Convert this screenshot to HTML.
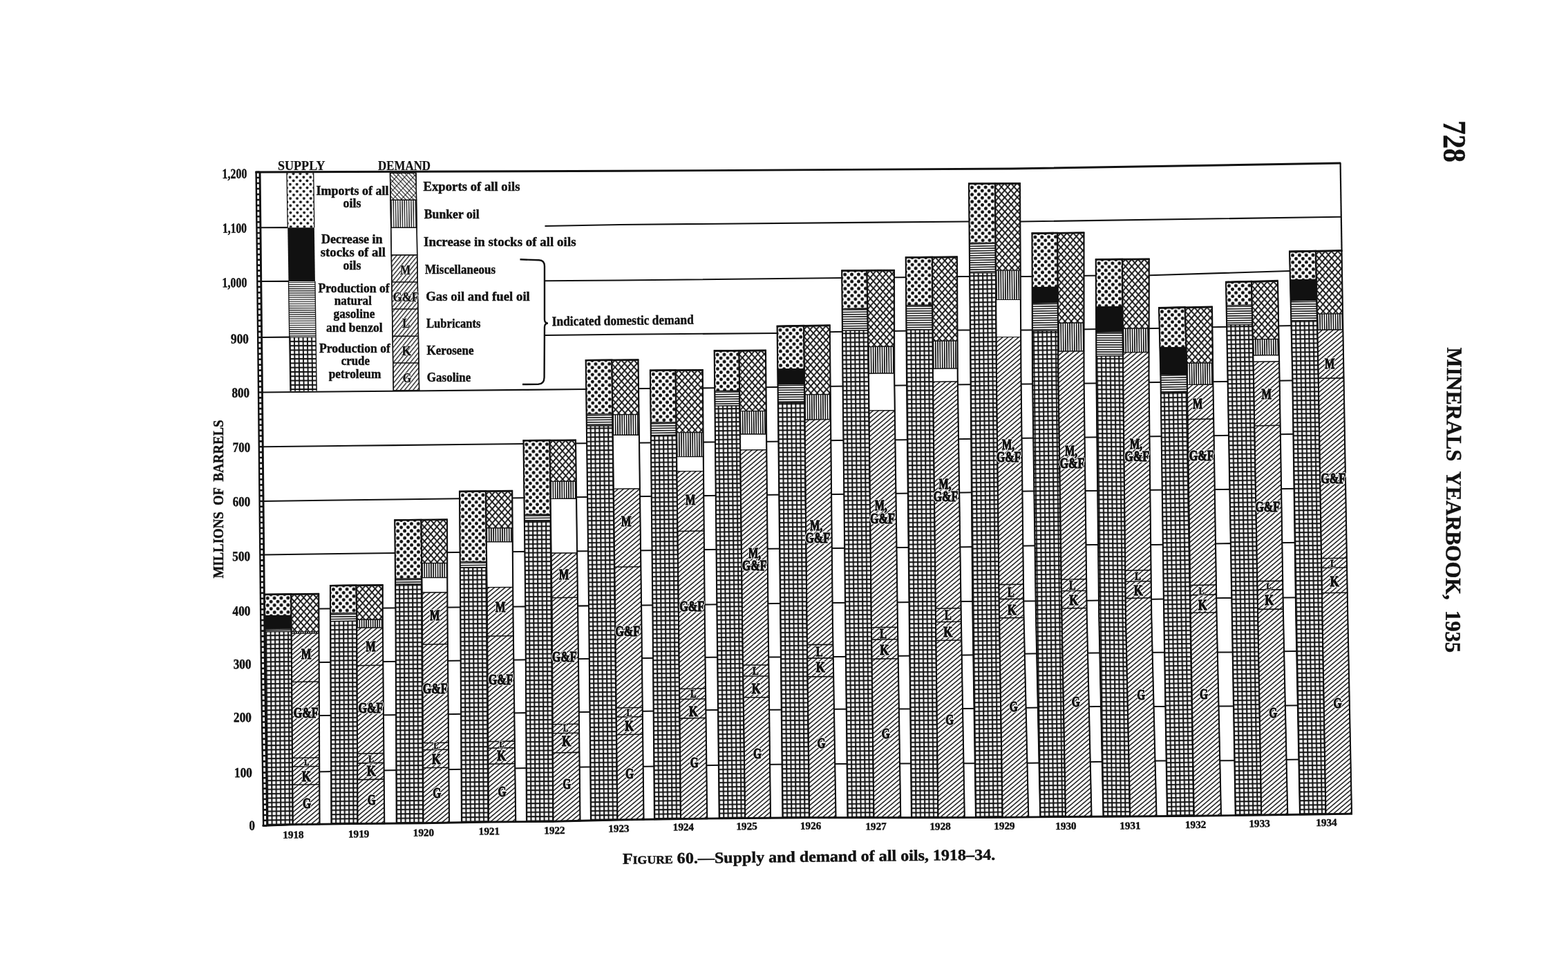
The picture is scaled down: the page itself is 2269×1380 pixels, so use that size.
<!DOCTYPE html>
<html lang="en"><head><meta charset="utf-8"><title>Figure 60. Supply and demand of all oils, 1918-34</title><style>
html,body{margin:0;padding:0;background:#fff}
svg{display:block}
.gl{fill:none;stroke:#111;stroke-width:2.1}
.sg{stroke:#111;stroke-width:1.2;stroke-linejoin:miter}
.dv{stroke:#111;stroke-width:1.6;fill:none}
.bo{fill:none;stroke:#111;stroke-width:2.1;stroke-linejoin:miter}
.bt{fill:none;stroke:#111;stroke-width:2.6}
.ax{fill:none;stroke:#111;stroke-width:2.8}
.fr{fill:none;stroke:#111;stroke-width:2.9}
.frr{fill:none;stroke:#111;stroke-width:2.2}
.ya{fill:none;stroke:#111;stroke-width:2.4}
.yb{fill:none;stroke:#111;stroke-width:2.9}
.tk{fill:none;stroke:#111;stroke-width:2.6}
.lgo{fill:none;stroke:#111;stroke-width:1.3}
.lgb{stroke:#111;stroke-width:1.4}
.halo{stroke:#fff;fill:#fff;stroke-linejoin:round}
.brk{fill:none;stroke:#111;stroke-width:2.4}
text{font-family:"Liberation Serif",serif;font-weight:bold;fill:#111;stroke:#111;stroke-width:0.45}
</style></head><body>
<svg width="2269" height="1380" viewBox="0 0 2269 1380">
<defs>
<pattern id="p1" patternUnits="userSpaceOnUse" width="9.85" height="10.25" patternTransform="matrix(1 -0.01364 0.00753 1 382.81 859.73) translate(1.9 2.9)"><circle cx="2.5" cy="2.7" r="2.45" fill="#111"/><circle cx="7.42" cy="7.83" r="2.45" fill="#111"/></pattern>
<pattern id="p2" patternUnits="userSpaceOnUse" width="8" height="3.38" patternTransform="matrix(1 -0.01364 0.00753 1 383.31 910.23)"><rect x="0" y="0.9" width="8" height="1.55" fill="#111"/></pattern>
<pattern id="p3" patternUnits="userSpaceOnUse" width="6.36" height="6.36" patternTransform="matrix(1 -0.01364 0.00753 1 387.09 1193.51)"><rect width="6.36" height="6.36" fill="#111"/><rect x="1.25" y="0.31" width="4.35" height="4.35" fill="#fff"/></pattern>
<pattern id="p4" patternUnits="userSpaceOnUse" width="9.1" height="10.2" patternTransform="matrix(1 -0.01364 0.00753 1 421.25 859.74) translate(4.5 0)"><path d="M0 0L9.1 10.2M9.1 0L0 10.2" stroke="#111" stroke-width="1.85" fill="none" stroke-linecap="square"/></pattern>
<pattern id="p5" patternUnits="userSpaceOnUse" width="3.22" height="8" patternTransform="matrix(1 -0.01364 0.00753 1 421.66 913.99)"><rect x="0" y="0" width="1.65" height="8" fill="#111"/></pattern>
<pattern id="p6" patternUnits="userSpaceOnUse" width="12" height="5.02" patternTransform="matrix(1 -0.01364 0.00753 1 423.75 1192.5) rotate(-39.5)"><rect x="0" y="1" width="12" height="1.45" fill="#111"/></pattern>
<pattern id="p7" patternUnits="userSpaceOnUse" width="9.85" height="10.25" patternTransform="matrix(1 -0.01287 0.00583 1 478 846.97) translate(1.9 2.9)"><circle cx="2.5" cy="2.7" r="2.45" fill="#111"/><circle cx="7.42" cy="7.83" r="2.45" fill="#111"/></pattern>
<pattern id="p8" patternUnits="userSpaceOnUse" width="8" height="3.38" patternTransform="matrix(1 -0.01287 0.00583 1 478 887.2)"><rect x="0" y="0.9" width="8" height="1.55" fill="#111"/></pattern>
<pattern id="p9" patternUnits="userSpaceOnUse" width="6.36" height="6.36" patternTransform="matrix(1 -0.01287 0.00583 1 479.51 1191.76)"><rect width="6.36" height="6.36" fill="#111"/><rect x="1.25" y="0.31" width="4.35" height="4.35" fill="#fff"/></pattern>
<pattern id="p10" patternUnits="userSpaceOnUse" width="9.1" height="10.2" patternTransform="matrix(1 -0.01287 0.00583 1 515.5 846.98) translate(4.5 0)"><path d="M0 0L9.1 10.2M9.1 0L0 10.2" stroke="#111" stroke-width="1.85" fill="none" stroke-linecap="square"/></pattern>
<pattern id="p11" patternUnits="userSpaceOnUse" width="3.22" height="8" patternTransform="matrix(1 -0.01287 0.00583 1 516.28 896.45)"><rect x="0" y="0" width="1.65" height="8" fill="#111"/></pattern>
<pattern id="p12" patternUnits="userSpaceOnUse" width="12" height="5.02" patternTransform="matrix(1 -0.01287 0.00583 1 517.51 1191.36) rotate(-39.5)"><rect x="0" y="1" width="12" height="1.45" fill="#111"/></pattern>
<pattern id="p13" patternUnits="userSpaceOnUse" width="9.85" height="10.25" patternTransform="matrix(1 -0.0115 0.00686 1 571.25 752.26) translate(1.9 2.9)"><circle cx="2.5" cy="2.7" r="2.45" fill="#111"/><circle cx="7.42" cy="7.83" r="2.45" fill="#111"/></pattern>
<pattern id="p14" patternUnits="userSpaceOnUse" width="8" height="3.38" patternTransform="matrix(1 -0.0115 0.00686 1 572.02 837.22)"><rect x="0" y="0.9" width="8" height="1.55" fill="#111"/></pattern>
<pattern id="p15" patternUnits="userSpaceOnUse" width="6.36" height="6.36" patternTransform="matrix(1 -0.0115 0.00686 1 573.76 1190.91)"><rect width="6.36" height="6.36" fill="#111"/><rect x="1.25" y="0.31" width="4.35" height="4.35" fill="#fff"/></pattern>
<pattern id="p16" patternUnits="userSpaceOnUse" width="9.1" height="10.2" patternTransform="matrix(1 -0.0115 0.00686 1 609.5 752.25) translate(4.5 0)"><path d="M0 0L9.1 10.2M9.1 0L0 10.2" stroke="#111" stroke-width="1.85" fill="none" stroke-linecap="square"/></pattern>
<pattern id="p17" patternUnits="userSpaceOnUse" width="3.22" height="8" patternTransform="matrix(1 -0.0115 0.00686 1 610.18 814.72)"><rect x="0" y="0" width="1.65" height="8" fill="#111"/></pattern>
<pattern id="p18" patternUnits="userSpaceOnUse" width="12" height="5.02" patternTransform="matrix(1 -0.0115 0.00686 1 612.51 1190.43) rotate(-39.5)"><rect x="0" y="1" width="12" height="1.45" fill="#111"/></pattern>
<pattern id="p19" patternUnits="userSpaceOnUse" width="9.85" height="10.25" patternTransform="matrix(1 -0.01053 0.00837 1 665.01 710.74) translate(1.9 2.9)"><circle cx="2.5" cy="2.7" r="2.45" fill="#111"/><circle cx="7.42" cy="7.83" r="2.45" fill="#111"/></pattern>
<pattern id="p20" patternUnits="userSpaceOnUse" width="8" height="3.38" patternTransform="matrix(1 -0.01053 0.00837 1 665.71 812.71)"><rect x="0" y="0.9" width="8" height="1.55" fill="#111"/></pattern>
<pattern id="p21" patternUnits="userSpaceOnUse" width="6.36" height="6.36" patternTransform="matrix(1 -0.01053 0.00837 1 668.01 1189.39)"><rect width="6.36" height="6.36" fill="#111"/><rect x="1.25" y="0.31" width="4.35" height="4.35" fill="#fff"/></pattern>
<pattern id="p22" patternUnits="userSpaceOnUse" width="9.1" height="10.2" patternTransform="matrix(1 -0.01053 0.00837 1 703.01 710.75) translate(4.5 0)"><path d="M0 0L9.1 10.2M9.1 0L0 10.2" stroke="#111" stroke-width="1.85" fill="none" stroke-linecap="square"/></pattern>
<pattern id="p23" patternUnits="userSpaceOnUse" width="3.22" height="8" patternTransform="matrix(1 -0.01053 0.00837 1 703.6 763.98)"><rect x="0" y="0" width="1.65" height="8" fill="#111"/></pattern>
<pattern id="p24" patternUnits="userSpaceOnUse" width="12" height="5.02" patternTransform="matrix(1 -0.01053 0.00837 1 707.01 1188.86) rotate(-39.5)"><rect x="0" y="1" width="12" height="1.45" fill="#111"/></pattern>
<pattern id="p25" patternUnits="userSpaceOnUse" width="9.85" height="10.25" patternTransform="matrix(1 -0.00851 0.00909 1 757.5 637.2) translate(1.9 2.9)"><circle cx="2.5" cy="2.7" r="2.45" fill="#111"/><circle cx="7.42" cy="7.83" r="2.45" fill="#111"/></pattern>
<pattern id="p26" patternUnits="userSpaceOnUse" width="8" height="3.38" patternTransform="matrix(1 -0.00851 0.00909 1 758.77 744.49)"><rect x="0" y="0.9" width="8" height="1.55" fill="#111"/></pattern>
<pattern id="p27" patternUnits="userSpaceOnUse" width="6.36" height="6.36" patternTransform="matrix(1 -0.00851 0.00909 1 762.01 1188.41)"><rect width="6.36" height="6.36" fill="#111"/><rect x="1.25" y="0.31" width="4.35" height="4.35" fill="#fff"/></pattern>
<pattern id="p28" patternUnits="userSpaceOnUse" width="9.1" height="10.2" patternTransform="matrix(1 -0.00851 0.00909 1 795.5 637.2) translate(4.5 0)"><path d="M0 0L9.1 10.2M9.1 0L0 10.2" stroke="#111" stroke-width="1.85" fill="none" stroke-linecap="square"/></pattern>
<pattern id="p29" patternUnits="userSpaceOnUse" width="3.22" height="8" patternTransform="matrix(1 -0.00851 0.00909 1 796.26 696.5)"><rect x="0" y="0" width="1.65" height="8" fill="#111"/></pattern>
<pattern id="p30" patternUnits="userSpaceOnUse" width="12" height="5.02" patternTransform="matrix(1 -0.00851 0.00909 1 800.5 1187.82) rotate(-39.5)"><rect x="0" y="1" width="12" height="1.45" fill="#111"/></pattern>
<pattern id="p31" patternUnits="userSpaceOnUse" width="9.85" height="10.25" patternTransform="matrix(1 -0.0108 0.0122 1 847.7 521.07) translate(1.9 2.9)"><circle cx="2.5" cy="2.7" r="2.45" fill="#111"/><circle cx="7.42" cy="7.83" r="2.45" fill="#111"/></pattern>
<pattern id="p32" patternUnits="userSpaceOnUse" width="8" height="3.38" patternTransform="matrix(1 -0.0108 0.0122 1 848.65 599.12)"><rect x="0" y="0.9" width="8" height="1.55" fill="#111"/></pattern>
<pattern id="p33" patternUnits="userSpaceOnUse" width="6.36" height="6.36" patternTransform="matrix(1 -0.0108 0.0122 1 855.01 1186.52)"><rect width="6.36" height="6.36" fill="#111"/><rect x="1.25" y="0.31" width="4.35" height="4.35" fill="#fff"/></pattern>
<pattern id="p34" patternUnits="userSpaceOnUse" width="9.1" height="10.2" patternTransform="matrix(1 -0.0108 0.0122 1 885.4 521.05) translate(4.5 0)"><path d="M0 0L9.1 10.2M9.1 0L0 10.2" stroke="#111" stroke-width="1.85" fill="none" stroke-linecap="square"/></pattern>
<pattern id="p35" patternUnits="userSpaceOnUse" width="3.22" height="8" patternTransform="matrix(1 -0.0108 0.0122 1 886.43 599.82)"><rect x="0" y="0" width="1.65" height="8" fill="#111"/></pattern>
<pattern id="p36" patternUnits="userSpaceOnUse" width="12" height="5.02" patternTransform="matrix(1 -0.0108 0.0122 1 893.51 1185.73) rotate(-39.5)"><rect x="0" y="1" width="12" height="1.45" fill="#111"/></pattern>
<pattern id="p37" patternUnits="userSpaceOnUse" width="9.85" height="10.25" patternTransform="matrix(1 -0.01344 0.01143 1 940.9 535.68) translate(1.9 2.9)"><circle cx="2.5" cy="2.7" r="2.45" fill="#111"/><circle cx="7.42" cy="7.83" r="2.45" fill="#111"/></pattern>
<pattern id="p38" patternUnits="userSpaceOnUse" width="8" height="3.38" patternTransform="matrix(1 -0.01344 0.01143 1 941.67 611.21)"><rect x="0" y="0.9" width="8" height="1.55" fill="#111"/></pattern>
<pattern id="p39" patternUnits="userSpaceOnUse" width="6.36" height="6.36" patternTransform="matrix(1 -0.01344 0.01143 1 947.02 1184.85)"><rect width="6.36" height="6.36" fill="#111"/><rect x="1.25" y="0.31" width="4.35" height="4.35" fill="#fff"/></pattern>
<pattern id="p40" patternUnits="userSpaceOnUse" width="9.1" height="10.2" patternTransform="matrix(1 -0.01344 0.01143 1 977.6 535.69) translate(4.5 0)"><path d="M0 0L9.1 10.2M9.1 0L0 10.2" stroke="#111" stroke-width="1.85" fill="none" stroke-linecap="square"/></pattern>
<pattern id="p41" patternUnits="userSpaceOnUse" width="3.22" height="8" patternTransform="matrix(1 -0.01344 0.01143 1 978.72 625.73)"><rect x="0" y="0" width="1.65" height="8" fill="#111"/></pattern>
<pattern id="p42" patternUnits="userSpaceOnUse" width="12" height="5.02" patternTransform="matrix(1 -0.01344 0.01143 1 985.01 1184.33) rotate(-39.5)"><rect x="0" y="1" width="12" height="1.45" fill="#111"/></pattern>
<pattern id="p43" patternUnits="userSpaceOnUse" width="9.85" height="10.25" patternTransform="matrix(1 -0.01359 0.01296 1 1033.7 507.41) translate(1.9 2.9)"><circle cx="2.5" cy="2.7" r="2.45" fill="#111"/><circle cx="7.42" cy="7.83" r="2.45" fill="#111"/></pattern>
<pattern id="p44" patternUnits="userSpaceOnUse" width="8" height="3.38" patternTransform="matrix(1 -0.01359 0.01296 1 1034.28 565.69)"><rect x="0" y="0.9" width="8" height="1.55" fill="#111"/></pattern>
<pattern id="p45" patternUnits="userSpaceOnUse" width="6.36" height="6.36" patternTransform="matrix(1 -0.01359 0.01296 1 1040.77 1183.74)"><rect width="6.36" height="6.36" fill="#111"/><rect x="1.25" y="0.31" width="4.35" height="4.35" fill="#fff"/></pattern>
<pattern id="p46" patternUnits="userSpaceOnUse" width="9.1" height="10.2" patternTransform="matrix(1 -0.01359 0.01296 1 1069.5 507.42) translate(4.5 0)"><path d="M0 0L9.1 10.2M9.1 0L0 10.2" stroke="#111" stroke-width="1.85" fill="none" stroke-linecap="square"/></pattern>
<pattern id="p47" patternUnits="userSpaceOnUse" width="3.22" height="8" patternTransform="matrix(1 -0.01359 0.01296 1 1070.53 594.75)"><rect x="0" y="0" width="1.65" height="8" fill="#111"/></pattern>
<pattern id="p48" patternUnits="userSpaceOnUse" width="12" height="5.02" patternTransform="matrix(1 -0.01359 0.01296 1 1078.27 1183.38) rotate(-39.5)"><rect x="0" y="1" width="12" height="1.45" fill="#111"/></pattern>
<pattern id="p49" patternUnits="userSpaceOnUse" width="9.85" height="10.25" patternTransform="matrix(1 -0.00815 0.01127 1 1124.61 471.76) translate(1.9 2.9)"><circle cx="2.5" cy="2.7" r="2.45" fill="#111"/><circle cx="7.42" cy="7.83" r="2.45" fill="#111"/></pattern>
<pattern id="p50" patternUnits="userSpaceOnUse" width="8" height="3.38" patternTransform="matrix(1 -0.00815 0.01127 1 1125.54 555.92)"><rect x="0" y="0.9" width="8" height="1.55" fill="#111"/></pattern>
<pattern id="p51" patternUnits="userSpaceOnUse" width="6.36" height="6.36" patternTransform="matrix(1 -0.00815 0.01127 1 1132.52 1182.93)"><rect width="6.36" height="6.36" fill="#111"/><rect x="1.25" y="0.31" width="4.35" height="4.35" fill="#fff"/></pattern>
<pattern id="p52" patternUnits="userSpaceOnUse" width="9.1" height="10.2" patternTransform="matrix(1 -0.00815 0.01127 1 1163.26 471.75) translate(4.5 0)"><path d="M0 0L9.1 10.2M9.1 0L0 10.2" stroke="#111" stroke-width="1.85" fill="none" stroke-linecap="square"/></pattern>
<pattern id="p53" patternUnits="userSpaceOnUse" width="3.22" height="8" patternTransform="matrix(1 -0.00815 0.01127 1 1164.26 570.82)"><rect x="0" y="0" width="1.65" height="8" fill="#111"/></pattern>
<pattern id="p54" patternUnits="userSpaceOnUse" width="12" height="5.02" patternTransform="matrix(1 -0.00815 0.01127 1 1171.27 1182.75) rotate(-39.5)"><rect x="0" y="1" width="12" height="1.45" fill="#111"/></pattern>
<pattern id="p55" patternUnits="userSpaceOnUse" width="9.85" height="10.25" patternTransform="matrix(1 -0.01075 0.01266 1 1218.25 391.46) translate(1.9 2.9)"><circle cx="2.5" cy="2.7" r="2.45" fill="#111"/><circle cx="7.42" cy="7.83" r="2.45" fill="#111"/></pattern>
<pattern id="p56" patternUnits="userSpaceOnUse" width="8" height="3.38" patternTransform="matrix(1 -0.01075 0.01266 1 1218.7 446.52)"><rect x="0" y="0.9" width="8" height="1.55" fill="#111"/></pattern>
<pattern id="p57" patternUnits="userSpaceOnUse" width="6.36" height="6.36" patternTransform="matrix(1 -0.01075 0.01266 1 1226.52 1182.75)"><rect width="6.36" height="6.36" fill="#111"/><rect x="1.25" y="0.31" width="4.35" height="4.35" fill="#fff"/></pattern>
<pattern id="p58" patternUnits="userSpaceOnUse" width="9.1" height="10.2" patternTransform="matrix(1 -0.01075 0.01266 1 1254.51 391.48) translate(4.5 0)"><path d="M0 0L9.1 10.2M9.1 0L0 10.2" stroke="#111" stroke-width="1.85" fill="none" stroke-linecap="square"/></pattern>
<pattern id="p59" patternUnits="userSpaceOnUse" width="3.22" height="8" patternTransform="matrix(1 -0.01075 0.01266 1 1256.29 501.57)"><rect x="0" y="0" width="1.65" height="8" fill="#111"/></pattern>
<pattern id="p60" patternUnits="userSpaceOnUse" width="12" height="5.02" patternTransform="matrix(1 -0.01075 0.01266 1 1264.52 1182.75) rotate(-39.5)"><rect x="0" y="1" width="12" height="1.45" fill="#111"/></pattern>
<pattern id="p61" patternUnits="userSpaceOnUse" width="9.85" height="10.25" patternTransform="matrix(1 -0.00815 0.01051 1 1310.75 372.29) translate(1.9 2.9)"><circle cx="2.5" cy="2.7" r="2.45" fill="#111"/><circle cx="7.42" cy="7.83" r="2.45" fill="#111"/></pattern>
<pattern id="p62" patternUnits="userSpaceOnUse" width="8" height="3.38" patternTransform="matrix(1 -0.00815 0.01051 1 1311.25 441.58)"><rect x="0" y="0.9" width="8" height="1.55" fill="#111"/></pattern>
<pattern id="p63" patternUnits="userSpaceOnUse" width="6.36" height="6.36" patternTransform="matrix(1 -0.00815 0.01051 1 1319.02 1182.75)"><rect width="6.36" height="6.36" fill="#111"/><rect x="1.25" y="0.31" width="4.35" height="4.35" fill="#fff"/></pattern>
<pattern id="p64" patternUnits="userSpaceOnUse" width="9.1" height="10.2" patternTransform="matrix(1 -0.00815 0.01051 1 1349 372.28) translate(4.5 0)"><path d="M0 0L9.1 10.2M9.1 0L0 10.2" stroke="#111" stroke-width="1.85" fill="none" stroke-linecap="square"/></pattern>
<pattern id="p65" patternUnits="userSpaceOnUse" width="3.22" height="8" patternTransform="matrix(1 -0.00815 0.01051 1 1349.7 493.31)"><rect x="0" y="0" width="1.65" height="8" fill="#111"/></pattern>
<pattern id="p66" patternUnits="userSpaceOnUse" width="12" height="5.02" patternTransform="matrix(1 -0.00815 0.01051 1 1357.52 1182.67) rotate(-39.5)"><rect x="0" y="1" width="12" height="1.45" fill="#111"/></pattern>
<pattern id="p67" patternUnits="userSpaceOnUse" width="9.85" height="10.25" patternTransform="matrix(1 -0.01923 0.01174 1 1402.01 265.6) translate(1.9 2.9)"><circle cx="2.5" cy="2.7" r="2.45" fill="#111"/><circle cx="7.42" cy="7.83" r="2.45" fill="#111"/></pattern>
<pattern id="p68" patternUnits="userSpaceOnUse" width="8" height="3.38" patternTransform="matrix(1 -0.01923 0.01174 1 1402.77 351.25)"><rect x="0" y="0.9" width="8" height="1.55" fill="#111"/></pattern>
<pattern id="p69" patternUnits="userSpaceOnUse" width="6.36" height="6.36" patternTransform="matrix(1 -0.01923 0.01174 1 1412.02 1182.41)"><rect width="6.36" height="6.36" fill="#111"/><rect x="1.25" y="0.31" width="4.35" height="4.35" fill="#fff"/></pattern>
<pattern id="p70" patternUnits="userSpaceOnUse" width="9.1" height="10.2" patternTransform="matrix(1 -0.01923 0.01174 1 1440 265.6) translate(4.5 0)"><path d="M0 0L9.1 10.2M9.1 0L0 10.2" stroke="#111" stroke-width="1.85" fill="none" stroke-linecap="square"/></pattern>
<pattern id="p71" patternUnits="userSpaceOnUse" width="3.22" height="8" patternTransform="matrix(1 -0.01923 0.01174 1 1440.9 391.25)"><rect x="0" y="0" width="1.65" height="8" fill="#111"/></pattern>
<pattern id="p72" patternUnits="userSpaceOnUse" width="12" height="5.02" patternTransform="matrix(1 -0.01923 0.01174 1 1450.77 1182.18) rotate(-39.5)"><rect x="0" y="1" width="12" height="1.45" fill="#111"/></pattern>
<pattern id="p73" patternUnits="userSpaceOnUse" width="9.85" height="10.25" patternTransform="matrix(1 -0.0163 0.01394 1 1493.5 337.35) translate(1.9 2.9)"><circle cx="2.5" cy="2.7" r="2.45" fill="#111"/><circle cx="7.42" cy="7.83" r="2.45" fill="#111"/></pattern>
<pattern id="p74" patternUnits="userSpaceOnUse" width="8" height="3.38" patternTransform="matrix(1 -0.0163 0.01394 1 1493.74 438.33)"><rect x="0" y="0.9" width="8" height="1.55" fill="#111"/></pattern>
<pattern id="p75" patternUnits="userSpaceOnUse" width="6.36" height="6.36" patternTransform="matrix(1 -0.0163 0.01394 1 1505.29 1181.71)"><rect width="6.36" height="6.36" fill="#111"/><rect x="1.25" y="0.31" width="4.35" height="4.35" fill="#fff"/></pattern>
<pattern id="p76" patternUnits="userSpaceOnUse" width="9.1" height="10.2" patternTransform="matrix(1 -0.0163 0.01394 1 1530.25 337.36) translate(4.5 0)"><path d="M0 0L9.1 10.2M9.1 0L0 10.2" stroke="#111" stroke-width="1.85" fill="none" stroke-linecap="square"/></pattern>
<pattern id="p77" patternUnits="userSpaceOnUse" width="3.22" height="8" patternTransform="matrix(1 -0.0163 0.01394 1 1531.03 467.33)"><rect x="0" y="0" width="1.65" height="8" fill="#111"/></pattern>
<pattern id="p78" patternUnits="userSpaceOnUse" width="12" height="5.02" patternTransform="matrix(1 -0.0163 0.01394 1 1542.03 1181.43) rotate(-39.5)"><rect x="0" y="1" width="12" height="1.45" fill="#111"/></pattern>
<pattern id="p79" patternUnits="userSpaceOnUse" width="9.85" height="10.25" patternTransform="matrix(1 0 0.01398 1 1585.75 375.2) translate(1.9 2.9)"><circle cx="2.5" cy="2.7" r="2.45" fill="#111"/><circle cx="7.42" cy="7.83" r="2.45" fill="#111"/></pattern>
<pattern id="p80" patternUnits="userSpaceOnUse" width="8" height="3.38" patternTransform="matrix(1 0 0.01398 1 1586.21 480.31)"><rect x="0" y="0.9" width="8" height="1.55" fill="#111"/></pattern>
<pattern id="p81" patternUnits="userSpaceOnUse" width="6.36" height="6.36" patternTransform="matrix(1 0 0.01398 1 1596.52 1181.14)"><rect width="6.36" height="6.36" fill="#111"/><rect x="1.25" y="0.31" width="4.35" height="4.35" fill="#fff"/></pattern>
<pattern id="p82" patternUnits="userSpaceOnUse" width="9.1" height="10.2" patternTransform="matrix(1 0 0.01398 1 1624 375.2) translate(4.5 0)"><path d="M0 0L9.1 10.2M9.1 0L0 10.2" stroke="#111" stroke-width="1.85" fill="none" stroke-linecap="square"/></pattern>
<pattern id="p83" patternUnits="userSpaceOnUse" width="3.22" height="8" patternTransform="matrix(1 0 0.01398 1 1624.74 475.3)"><rect x="0" y="0" width="1.65" height="8" fill="#111"/></pattern>
<pattern id="p84" patternUnits="userSpaceOnUse" width="12" height="5.02" patternTransform="matrix(1 0 0.01398 1 1635.27 1180.9) rotate(-39.5)"><rect x="0" y="1" width="12" height="1.45" fill="#111"/></pattern>
<pattern id="p85" patternUnits="userSpaceOnUse" width="9.85" height="10.25" patternTransform="matrix(1 -0.01786 0.01769 1 1677.03 445.17) translate(1.9 2.9)"><circle cx="2.5" cy="2.7" r="2.45" fill="#111"/><circle cx="7.42" cy="7.83" r="2.45" fill="#111"/></pattern>
<pattern id="p86" patternUnits="userSpaceOnUse" width="8" height="3.38" patternTransform="matrix(1 -0.01786 0.01769 1 1679.41 541.54)"><rect x="0" y="0.9" width="8" height="1.55" fill="#111"/></pattern>
<pattern id="p87" patternUnits="userSpaceOnUse" width="6.36" height="6.36" patternTransform="matrix(1 -0.01786 0.01769 1 1689.02 1180.44)"><rect width="6.36" height="6.36" fill="#111"/><rect x="1.25" y="0.31" width="4.35" height="4.35" fill="#fff"/></pattern>
<pattern id="p88" patternUnits="userSpaceOnUse" width="9.1" height="10.2" patternTransform="matrix(1 -0.01786 0.01769 1 1714.79 445.18) translate(4.5 0)"><path d="M0 0L9.1 10.2M9.1 0L0 10.2" stroke="#111" stroke-width="1.85" fill="none" stroke-linecap="square"/></pattern>
<pattern id="p89" patternUnits="userSpaceOnUse" width="3.22" height="8" patternTransform="matrix(1 -0.01786 0.01769 1 1717.17 525.35)"><rect x="0" y="0" width="1.65" height="8" fill="#111"/></pattern>
<pattern id="p90" patternUnits="userSpaceOnUse" width="12" height="5.02" patternTransform="matrix(1 -0.01786 0.01769 1 1727.77 1180.06) rotate(-39.5)"><rect x="0" y="1" width="12" height="1.45" fill="#111"/></pattern>
<pattern id="p91" patternUnits="userSpaceOnUse" width="9.85" height="10.25" patternTransform="matrix(1 -0.0133 0.01848 1 1774.01 407.8) translate(1.9 2.9)"><circle cx="2.5" cy="2.7" r="2.45" fill="#111"/><circle cx="7.42" cy="7.83" r="2.45" fill="#111"/></pattern>
<pattern id="p92" patternUnits="userSpaceOnUse" width="8" height="3.38" patternTransform="matrix(1 -0.0133 0.01848 1 1774.63 441.88)"><rect x="0" y="0.9" width="8" height="1.55" fill="#111"/></pattern>
<pattern id="p93" patternUnits="userSpaceOnUse" width="6.36" height="6.36" patternTransform="matrix(1 -0.0133 0.01848 1 1787.77 1179.3)"><rect width="6.36" height="6.36" fill="#111"/><rect x="1.25" y="0.31" width="4.35" height="4.35" fill="#fff"/></pattern>
<pattern id="p94" patternUnits="userSpaceOnUse" width="9.1" height="10.2" patternTransform="matrix(1 -0.0133 0.01848 1 1811.02 407.8) translate(4.5 0)"><path d="M0 0L9.1 10.2M9.1 0L0 10.2" stroke="#111" stroke-width="1.85" fill="none" stroke-linecap="square"/></pattern>
<pattern id="p95" patternUnits="userSpaceOnUse" width="3.22" height="8" patternTransform="matrix(1 -0.0133 0.01848 1 1812.83 490.96)"><rect x="0" y="0" width="1.65" height="8" fill="#111"/></pattern>
<pattern id="p96" patternUnits="userSpaceOnUse" width="12" height="5.02" patternTransform="matrix(1 -0.0133 0.01848 1 1825.26 1178.81) rotate(-39.5)"><rect x="0" y="1" width="12" height="1.45" fill="#111"/></pattern>
<pattern id="p97" patternUnits="userSpaceOnUse" width="9.85" height="10.25" patternTransform="matrix(1 -0.01087 0.01781 1 1866.02 363.65) translate(1.9 2.9)"><circle cx="2.5" cy="2.7" r="2.45" fill="#111"/><circle cx="7.42" cy="7.83" r="2.45" fill="#111"/></pattern>
<pattern id="p98" patternUnits="userSpaceOnUse" width="8" height="3.38" patternTransform="matrix(1 -0.01087 0.01781 1 1867.68 435.1)"><rect x="0" y="0.9" width="8" height="1.55" fill="#111"/></pattern>
<pattern id="p99" patternUnits="userSpaceOnUse" width="6.36" height="6.36" patternTransform="matrix(1 -0.01087 0.01781 1 1881.02 1178.07)"><rect width="6.36" height="6.36" fill="#111"/><rect x="1.25" y="0.31" width="4.35" height="4.35" fill="#fff"/></pattern>
<pattern id="p100" patternUnits="userSpaceOnUse" width="9.1" height="10.2" patternTransform="matrix(1 -0.01087 0.01781 1 1904.01 363.64) translate(4.5 0)"><path d="M0 0L9.1 10.2M9.1 0L0 10.2" stroke="#111" stroke-width="1.85" fill="none" stroke-linecap="square"/></pattern>
<pattern id="p101" patternUnits="userSpaceOnUse" width="3.22" height="8" patternTransform="matrix(1 -0.01087 0.01781 1 1905.88 454.27)"><rect x="0" y="0" width="1.65" height="8" fill="#111"/></pattern>
<pattern id="p102" patternUnits="userSpaceOnUse" width="12" height="5.02" patternTransform="matrix(1 -0.01087 0.01781 1 1918.51 1177.55) rotate(-39.5)"><rect x="0" y="1" width="12" height="1.45" fill="#111"/></pattern>
<pattern id="p103" patternUnits="userSpaceOnUse" width="9.85" height="10.25" patternTransform="matrix(1 -0.003 0.0155 1 415 250.36) translate(2.2 3.4)"><circle cx="2.4" cy="2.6" r="2.0" fill="#111"/><circle cx="7.32" cy="7.72" r="2.0" fill="#111"/></pattern>
<pattern id="p104" patternUnits="userSpaceOnUse" width="8" height="3.1" patternTransform="matrix(1 -0.003 0.0155 1 417.49 407.06)"><rect x="0" y="0.8" width="8" height="1.2" fill="#111"/></pattern>
<pattern id="p105" patternUnits="userSpaceOnUse" width="6.3" height="6.3" patternTransform="matrix(1 -0.003 0.0155 1 418.77 487.56)"><rect width="6.3" height="6.3" fill="#111"/><rect x="1.8" y="1.1" width="4.4" height="4.2" fill="#fff"/></pattern>
<pattern id="p106" patternUnits="userSpaceOnUse" width="12" height="4.2" patternTransform="matrix(1 -0.003 0.0155 1 564.5 250.36) rotate(47)"><rect x="0" y="1" width="12" height="1.1" fill="#111"/></pattern>
<pattern id="p107" patternUnits="userSpaceOnUse" width="12" height="9" patternTransform="matrix(1 -0.003 0.0155 1 564.5 250.36) rotate(-47)"><rect x="0" y="1" width="12" height="0.8" fill="#111"/></pattern>
<pattern id="p108" patternUnits="userSpaceOnUse" width="3.2" height="8" patternTransform="matrix(1 -0.003 0.0155 1 565.1 289.36)"><rect x="0.3" y="0" width="1.35" height="8" fill="#111"/></pattern>
<pattern id="p110" patternUnits="userSpaceOnUse" width="12" height="4.7" patternTransform="matrix(1 -0.003 0.0155 1 566.31 368.86) rotate(-50)"><rect x="0" y="1" width="12" height="1.3" fill="#111"/></pattern>
</defs>
<rect width="2269" height="1380" fill="#fff"/>
<g id="grid-and-bars">
<path d="M386.02 1117.54 L470 1116.25 L565 1114.25 L658 1113 L753 1111.25 L847 1109.5 L938 1108.75 L1031 1107 L1123 1105.75 L1217 1105 L1310 1104.5 L1403 1104.25 L1494 1103.75 L1586 1102 L1680 1100.5 L1776 1100.3 L1871 1098.75 L1938 1097.76" class="gl"/>
<path d="M384.88 1036.26 L470 1035 L565 1034.25 L658 1033 L753 1031.25 L847 1030 L938 1028.75 L1031 1027 L1123 1026.75 L1217 1025.75 L1310 1025.5 L1403 1025 L1494 1023.75 L1586 1022 L1680 1022 L1776 1021.5 L1871 1020.5 L1938 1019.71" class="gl"/>
<path d="M383.79 959.18 L470 958 L565 957 L658 955.75 L753 954.5 L847 953 L938 952 L1031 950.75 L1123 950.5 L1217 950 L1310 948.75 L1403 947.5 L1494 945.5 L1586 944.5 L1680 943.75 L1776 943.5 L1871 942 L1938 941.21" class="gl"/>
<path d="M383.02 881.49 L470 880.5 L565 879.5 L658 878.5 L753 877.5 L847 876.4 L935 875.5 L1028 874.5 L1120 873 L1212 872 L1305 871.25 L1397 870 L1488 869.5 L1580 868.75 L1672 866.75 L1770 865 L1864 864.5 L1938 863.7" class="gl"/>
<path d="M382.24 802.5 L470 801.3 L571 800 L658 799 L753 798 L847 797.2 L935 796.25 L1028 795 L1120 793.75 L1212 793 L1305 792 L1397 791.25 L1488 789.5 L1580 788 L1672 788 L1770 786.25 L1864 785 L1938 784.2" class="gl"/>
<path d="M381.48 725.01 L382 725 L470 723.8 L571 722.5 L665 721.25 L753 720.2 L847 719 L935 718 L1028 717 L1120 715.75 L1212 715 L1305 713.75 L1397 712.5 L1488 710.5 L1580 710 L1672 708.75 L1770 708 L1864 707 L1938 706.2" class="gl"/>
<path d="M380.7 646.27 L382 646.25 L470 645.2 L571 644.1 L665 643 L757.5 642 L847 641.2 L935 640.5 L1028 639.5 L1120 638.75 L1212 637 L1305 636.25 L1397 635 L1488 633.75 L1580 632.5 L1672 631.25 L1770 630 L1864 628 L1938 627.2" class="gl"/>
<path d="M379.92 567.52 L382 567.5 L571 565.7 L757.5 563.9 L847.5 563 L935 562 L1028 561.25 L1120 560 L1212 558.75 L1305 557.5 L1397 556.25 L1488 555.5 L1580 554.5 L1672 553 L1770 552 L1864 550.5 L1938 549.53" class="gl"/>
<path d="M379.09 487.99 L419.5 487.6 L420 487.6" class="gl"/>
<path d="M788.5 485 L789 485 L897 483.75 L1123 482 L1209.5 480 L1302 478.75 L1393 477.5 L1485 477.5 L1576 476.25 L1671 475 L1764 473 L1859 471.25 L1941 469.77" class="gl"/>
<path d="M378.21 407 L418 406.9" class="gl"/>
<path d="M788.5 406.25 L789 406.25 L897 405.5 L1218 402 L1302 401.25 L1393 400 L1485 400 L1576 398.75 L1664 398.25 L1865 392 L1941 389.91" class="gl"/>
<path d="M377.38 329.25 L415 329.1 L416 329.09" class="gl"/>
<path d="M788.5 326.99 L897 325 L1400 320.5 L1478 320.5 L1938 313.75 L1941 313.71" class="gl"/>
<polygon points="382.81,859.73 421.24,859.27 421.25,860 421.48,890.28 383.12,890.72" fill="#fff"/><polygon points="382.81,859.73 421.24,859.27 421.25,860 421.48,890.28 383.12,890.72" fill="url(#p1)" class="sg"/>
<polygon points="383.12,890.72 421.48,890.28 421.62,909.77 383.31,910.23" fill="#111" class="sg"/>
<polygon points="383.31,910.23 421.62,909.77 421.65,913.51 383.35,913.98" fill="#fff"/><polygon points="383.31,910.23 421.62,909.77 421.65,913.51 383.35,913.98" fill="url(#p2)" class="sg"/>
<polygon points="383.35,913.98 421.65,913.51 423.75,1192 423.76,1192.74 387.1,1194.07 383.8,960" fill="#fff"/><polygon points="383.35,913.98 421.65,913.51 423.75,1192 423.76,1192.74 387.1,1194.07 383.8,960" fill="url(#p3)" class="sg"/>
<polygon points="382.81,859.73 421.24,859.27 421.25,860 423.75,1192 423.76,1192.74 387.1,1194.07 383.8,960" class="bo"/>
<polygon points="421.25,859.74 461.25,859.26 461.25,860 461.45,913.5 421.66,913.99" fill="#fff"/><polygon points="421.25,859.74 461.25,859.26 461.25,860 461.45,913.5 421.66,913.99" fill="url(#p4)" class="sg"/>
<polygon points="421.66,913.99 461.45,913.5 461.46,916 421.68,916.5" fill="#fff"/><polygon points="421.66,913.99 461.45,913.5 461.46,916 421.68,916.5" fill="url(#p5)" class="sg"/>
<polygon points="421.68,916.5 461.46,916 462.5,1192.22 423.76,1192.74 423.75,1192" fill="#fff"/><polygon points="421.68,916.5 461.46,916 462.5,1192.22 423.76,1192.74 423.75,1192" fill="url(#p6)" class="sg"/>
<path d="M422.2 986.52L461.72 985.97" class="dv"/>
<path d="M423.03 1096.53L462.14 1095.94" class="dv"/>
<path d="M423.13 1109.03L462.19 1108.43" class="dv"/>
<path d="M423.32 1135.27L462.28 1134.69" class="dv"/>
<polygon points="421.25,859.74 461.25,859.26 461.25,860 462.5,1192.22 423.76,1192.74 423.75,1192" class="bo"/>
<path d="M382.01 859.97L462.05 859.03" class="bt"/>
<polygon points="478,846.97 515.49,846.54 516.19,886.8 478,887.2" fill="#fff"/><polygon points="478,846.97 515.49,846.54 516.19,886.8 478,887.2" fill="url(#p7)" class="sg"/>
<polygon points="478,887.2 516.19,886.8 516.25,890 516.28,898.3 478.04,898.7 478,890" fill="#fff"/><polygon points="478,887.2 516.19,886.8 516.25,890 516.28,898.3 478.04,898.7 478,890" fill="url(#p8)" class="sg"/>
<polygon points="478.04,898.7 516.28,898.3 517.5,1190 517.51,1191.5 479.51,1192 479.5,1190" fill="#fff"/><polygon points="478.04,898.7 516.28,898.3 517.5,1190 517.51,1191.5 479.51,1192 479.5,1190" fill="url(#p9)" class="sg"/>
<polygon points="478,846.97 515.49,846.54 516.25,890 517.5,1190 517.51,1191.5 479.51,1192 479.5,1190 478,890" class="bo"/>
<polygon points="515.5,846.98 553.75,846.54 553.75,890 553.8,896.05 516.28,896.45 516.25,890" fill="#fff"/><polygon points="515.5,846.98 553.75,846.54 553.75,890 553.8,896.05 516.28,896.45 516.25,890" fill="url(#p10)" class="sg"/>
<polygon points="516.28,896.45 553.8,896.05 553.9,907.8 516.33,908.2" fill="#fff"/><polygon points="516.28,896.45 553.8,896.05 553.9,907.8 516.33,908.2" fill="url(#p11)" class="sg"/>
<polygon points="516.33,908.2 553.9,907.8 556.25,1190 556.26,1191.19 517.51,1191.5 517.5,1190" fill="#fff"/><polygon points="516.33,908.2 553.9,907.8 556.25,1190 556.26,1191.19 517.51,1191.5 517.5,1190" fill="url(#p12)" class="sg"/>
<path d="M516.55 962.69L554.35 962.3" class="dv"/>
<path d="M517.08 1090.31L555.41 1089.65" class="dv"/>
<path d="M517.14 1104.09L555.53 1103.36" class="dv"/>
<path d="M517.24 1127.84L555.73 1127.11" class="dv"/>
<polygon points="515.5,846.98 553.75,846.54 553.75,890 556.25,1190 556.26,1191.19 517.51,1191.5 517.5,1190 516.25,890" class="bo"/>
<path d="M477.2 847.19L554.55 846.32" class="bt"/>
<polygon points="571.25,752.26 609.5,751.78 610.42,836.79 572.02,837.22" fill="#fff"/><polygon points="571.25,752.26 609.5,751.78 610.42,836.79 572.02,837.22" fill="url(#p13)" class="sg"/>
<polygon points="572.02,837.22 610.42,836.79 610.51,844.79 572.09,845.22" fill="#fff"/><polygon points="572.02,837.22 610.42,836.79 610.51,844.79 572.09,845.22" fill="url(#p14)" class="sg"/>
<polygon points="572.09,845.22 610.51,844.79 611,890 612.5,1189 612.51,1190.74 573.76,1191.05 573.75,1189 572.5,890" fill="#fff"/><polygon points="572.09,845.22 610.51,844.79 611,890 612.5,1189 612.51,1190.74 573.76,1191.05 573.75,1189 572.5,890" fill="url(#p15)" class="sg"/>
<polygon points="571.25,752.26 609.5,751.78 611,890 612.5,1189 612.51,1190.74 573.76,1191.05 573.75,1189 572.5,890" class="bo"/>
<polygon points="609.5,752.25 647,751.78 647.23,814.3 610.18,814.72" fill="#fff"/><polygon points="609.5,752.25 647,751.78 647.23,814.3 610.18,814.72" fill="url(#p16)" class="sg"/>
<polygon points="610.18,814.72 647.23,814.3 647.3,835.3 610.41,835.71" fill="#fff"/><polygon points="610.18,814.72 647.23,814.3 647.3,835.3 610.41,835.71" fill="url(#p17)" class="sg"/>
<polygon points="610.41,835.71 647.3,835.3 647.38,856.8 610.64,857.2" fill="#fff" class="sg"/>
<polygon points="610.64,857.2 647.38,856.8 647.5,890 650,1189 650.01,1190.05 612.51,1190.74 612.5,1189 611,890" fill="#fff"/><polygon points="610.64,857.2 647.38,856.8 647.5,890 650,1189 650.01,1190.05 612.51,1190.74 612.5,1189 611,890" fill="url(#p18)" class="sg"/>
<path d="M611.21 932.23L647.85 931.77" class="dv"/>
<path d="M611.93 1074.73L649.04 1074.23" class="dv"/>
<path d="M611.98 1084.73L649.12 1084.23" class="dv"/>
<path d="M612.11 1110.73L649.34 1110.23" class="dv"/>
<polygon points="609.5,752.25 647,751.78 647.5,890 650,1189 650.01,1190.05 612.51,1190.74 612.5,1189 611,890" class="bo"/>
<path d="M570.45 752.5L647.8 751.54" class="bt"/>
<polygon points="665.01,710.74 703,710.3 704.14,812.31 665.71,812.71" fill="#fff"/><polygon points="665.01,710.74 703,710.3 704.14,812.31 665.71,812.71" fill="url(#p19)" class="sg"/>
<polygon points="665.71,812.71 704.14,812.31 704.23,821.05 665.77,821.46" fill="#fff"/><polygon points="665.71,812.71 704.14,812.31 704.23,821.05 665.77,821.46" fill="url(#p20)" class="sg"/>
<polygon points="665.77,821.46 704.23,821.05 705,890 707,1188 707.01,1189 668.01,1189.72 668,1188 666.25,890" fill="#fff"/><polygon points="665.77,821.46 704.23,821.05 705,890 707,1188 707.01,1189 668.01,1189.72 668,1188 666.25,890" fill="url(#p21)" class="sg"/>
<polygon points="665.01,710.74 703,710.3 705,890 707,1188 707.01,1189 668.01,1189.72 668,1188 666.25,890" class="bo"/>
<polygon points="703.01,710.75 741.25,710.29 741.62,763.55 703.6,763.98" fill="#fff"/><polygon points="703.01,710.75 741.25,710.29 741.62,763.55 703.6,763.98" fill="url(#p22)" class="sg"/>
<polygon points="703.6,763.98 741.62,763.55 741.76,783.56 703.82,783.97" fill="#fff"/><polygon points="703.6,763.98 741.62,763.55 741.76,783.56 703.82,783.97" fill="url(#p23)" class="sg"/>
<polygon points="703.82,783.97 741.76,783.56 742.22,849.31 704.55,849.7" fill="#fff" class="sg"/>
<polygon points="704.55,849.7 742.22,849.31 742.5,890 746.25,1188 746.26,1188.68 707.01,1189 707,1188 705,890" fill="#fff"/><polygon points="704.55,849.7 742.22,849.31 742.5,890 746.25,1188 746.26,1188.68 707.01,1189 707,1188 705,890" fill="url(#p24)" class="sg"/>
<path d="M705.2 920.22L742.87 919.77" class="dv"/>
<path d="M706.23 1072.82L744.79 1072.11" class="dv"/>
<path d="M706.29 1082.32L744.91 1081.61" class="dv"/>
<path d="M706.45 1105.32L745.2 1104.61" class="dv"/>
<polygon points="703.01,710.75 741.25,710.29 742.5,890 746.25,1188 746.26,1188.68 707.01,1189 707,1188 705,890" class="bo"/>
<path d="M664.21 710.97L742.05 710.07" class="bt"/>
<polygon points="757.5,637.2 795.5,636.86 796.88,744.05 758.77,744.49" fill="#fff"/><polygon points="757.5,637.2 795.5,636.86 796.88,744.05 758.77,744.49" fill="url(#p25)" class="sg"/>
<polygon points="758.77,744.49 796.88,744.05 797,753.56 758.89,753.98" fill="#fff"/><polygon points="758.77,744.49 796.88,744.05 797,753.56 758.89,753.98" fill="url(#p26)" class="sg"/>
<polygon points="758.89,753.98 797,753.56 798.75,890 800.5,1187 800.51,1188.24 762.01,1188.56 762,1187 760.5,890" fill="#fff"/><polygon points="758.89,753.98 797,753.56 798.75,890 800.5,1187 800.51,1188.24 762.01,1188.56 762,1187 760.5,890" fill="url(#p27)" class="sg"/>
<polygon points="757.5,637.2 795.5,636.86 798.75,890 800.5,1187 800.51,1188.24 762.01,1188.56 762,1187 760.5,890" class="bo"/>
<polygon points="795.5,637.2 833,636.86 833.76,696.06 796.26,696.5" fill="#fff"/><polygon points="795.5,637.2 833,636.86 833.76,696.06 796.26,696.5" fill="url(#p28)" class="sg"/>
<polygon points="796.26,696.5 833.76,696.06 834.08,721.04 796.59,721.52" fill="#fff"/><polygon points="796.26,696.5 833.76,696.06 834.08,721.04 796.59,721.52" fill="url(#p29)" class="sg"/>
<polygon points="796.59,721.52 834.08,721.04 835.09,799.85 797.6,800.17" fill="#fff" class="sg"/>
<polygon points="797.6,800.17 835.09,799.85 836.25,890 839.5,1187.29 800.51,1188.24 800.5,1187 798.75,890" fill="#fff"/><polygon points="797.6,800.17 835.09,799.85 836.25,890 839.5,1187.29 800.51,1188.24 800.5,1187 798.75,890" fill="url(#p30)" class="sg"/>
<path d="M798.43 864.71L835.92 864.29" class="dv"/>
<path d="M799.68 1047.76L837.97 1047.21" class="dv"/>
<path d="M799.76 1060.77L838.11 1060.19" class="dv"/>
<path d="M799.92 1089.05L838.42 1088.39" class="dv"/>
<polygon points="795.5,637.2 833,636.86 836.25,890 839.5,1187.29 800.51,1188.24 800.5,1187 798.75,890" class="bo"/>
<path d="M756.7 637.37L833.8 636.69" class="bt"/>
<polygon points="847.7,521.07 885.4,520.64 886.41,598.75 848.65,599.12" fill="#fff"/><polygon points="847.7,521.07 885.4,520.64 886.41,598.75 848.65,599.12" fill="url(#p31)" class="sg"/>
<polygon points="848.65,599.12 886.41,598.75 886.63,615.86 848.86,616.2" fill="#fff"/><polygon points="848.65,599.12 886.41,598.75 886.63,615.86 848.86,616.2" fill="url(#p32)" class="sg"/>
<polygon points="848.86,616.2 886.63,615.86 890.2,890 893.5,1185 893.51,1185.99 855.02,1186.92 855,1185 852.2,890" fill="#fff"/><polygon points="848.86,616.2 886.63,615.86 890.2,890 893.5,1185 893.51,1185.99 855.02,1186.92 855,1185 852.2,890" fill="url(#p33)" class="sg"/>
<polygon points="847.7,521.07 885.4,520.64 890.2,890 893.5,1185 893.51,1185.99 855.02,1186.92 855,1185 852.2,890" class="bo"/>
<polygon points="885.4,521.05 923.5,520.67 924.51,599.45 886.43,599.82" fill="#fff"/><polygon points="885.4,521.05 923.5,520.67 924.51,599.45 886.43,599.82" fill="url(#p34)" class="sg"/>
<polygon points="886.43,599.82 924.51,599.45 924.89,629.07 886.81,629.39" fill="#fff"/><polygon points="886.43,599.82 924.51,599.45 924.89,629.07 886.81,629.39" fill="url(#p35)" class="sg"/>
<polygon points="886.81,629.39 924.89,629.07 925.89,706.82 887.82,707.23" fill="#fff" class="sg"/>
<polygon points="887.82,707.23 925.89,706.82 928.25,890 931.5,1185.37 893.51,1185.99 893.5,1185 890.2,890" fill="#fff"/><polygon points="887.82,707.23 925.89,706.82 928.25,890 931.5,1185.37 893.51,1185.99 893.5,1185 890.2,890" fill="url(#p36)" class="sg"/>
<path d="M889.29 820.21L927.35 819.81" class="dv"/>
<path d="M891.7 1023.99L929.72 1023.47" class="dv"/>
<path d="M891.85 1037.23L929.87 1036.73" class="dv"/>
<path d="M892.13 1062.7L930.15 1062.26" class="dv"/>
<polygon points="885.4,521.05 923.5,520.67 928.25,890 931.5,1185.37 893.51,1185.99 893.5,1185 890.2,890" class="bo"/>
<path d="M846.9 521.29L924.29 520.47" class="bt"/>
<polygon points="940.9,535.68 977.6,535.39 978.54,610.85 941.67,611.21" fill="#fff"/><polygon points="940.9,535.68 977.6,535.39 978.54,610.85 941.67,611.21" fill="url(#p37)" class="sg"/>
<polygon points="941.67,611.21 978.54,610.85 978.76,629.24 941.86,629.62" fill="#fff"/><polygon points="941.67,611.21 978.54,610.85 978.76,629.24 941.86,629.62" fill="url(#p38)" class="sg"/>
<polygon points="941.86,629.62 978.76,629.24 982,890 985,1183 985.02,1184.5 947.02,1185.12 947,1183 944.5,890" fill="#fff"/><polygon points="941.86,629.62 978.76,629.24 982,890 985,1183 985.02,1184.5 947.02,1185.12 947,1183 944.5,890" fill="url(#p39)" class="sg"/>
<polygon points="940.9,535.68 977.6,535.39 982,890 985,1183 985.02,1184.5 947.02,1185.12 947,1183 944.5,890" class="bo"/>
<polygon points="977.6,535.69 1016.8,535.37 1017.55,625.33 978.72,625.73" fill="#fff"/><polygon points="977.6,535.69 1016.8,535.37 1017.55,625.33 978.72,625.73" fill="url(#p40)" class="sg"/>
<polygon points="978.72,625.73 1017.55,625.33 1017.84,660.32 979.15,660.73" fill="#fff"/><polygon points="978.72,625.73 1017.55,625.33 1017.84,660.32 979.15,660.73" fill="url(#p41)" class="sg"/>
<polygon points="979.15,660.73 1017.84,660.32 1018.02,681.52 979.42,681.93" fill="#fff" class="sg"/>
<polygon points="979.42,681.93 1018.02,681.52 1019.75,890 1023.25,1183 1023.26,1184.09 985.02,1184.5 985,1183 982,890" fill="#fff"/><polygon points="979.42,681.93 1018.02,681.52 1019.75,890 1023.25,1183 1023.26,1184.09 985.02,1184.5 985,1183 982,890" fill="url(#p42)" class="sg"/>
<path d="M980.49 768.51L1018.74 768.03" class="dv"/>
<path d="M983.09 996.55L1021.02 995.92" class="dv"/>
<path d="M983.24 1011.56L1021.19 1010.89" class="dv"/>
<path d="M983.53 1039.08L1021.52 1038.36" class="dv"/>
<polygon points="977.6,535.69 1016.8,535.37 1019.75,890 1023.25,1183 1023.26,1184.09 985.02,1184.5 985,1183 982,890" class="bo"/>
<path d="M940.1 535.83L1017.6 535.22" class="bt"/>
<polygon points="1033.7,507.41 1069.5,507.07 1070.18,565.21 1034.28,565.69" fill="#fff"/><polygon points="1033.7,507.41 1069.5,507.07 1070.18,565.21 1034.28,565.69" fill="url(#p43)" class="sg"/>
<polygon points="1034.28,565.69 1070.18,565.21 1070.44,586.83 1034.5,587.25" fill="#fff"/><polygon points="1034.28,565.69 1070.18,565.21 1070.44,586.83 1034.5,587.25" fill="url(#p44)" class="sg"/>
<polygon points="1034.5,587.25 1070.44,586.83 1074,890 1078.25,1182 1078.27,1183.5 1040.77,1183.9 1040.75,1182 1037.5,890" fill="#fff"/><polygon points="1034.5,587.25 1070.44,586.83 1074,890 1078.25,1182 1078.27,1183.5 1040.77,1183.9 1040.75,1182 1037.5,890" fill="url(#p45)" class="sg"/>
<polygon points="1033.7,507.41 1069.5,507.07 1074,890 1078.25,1182 1078.27,1183.5 1040.77,1183.9 1040.75,1182 1037.5,890" class="bo"/>
<polygon points="1069.5,507.42 1108,507.05 1108.8,594.32 1070.53,594.75" fill="#fff"/><polygon points="1069.5,507.42 1108,507.05 1108.8,594.32 1070.53,594.75" fill="url(#p46)" class="sg"/>
<polygon points="1070.53,594.75 1108.8,594.32 1109.1,627.86 1070.92,628.2" fill="#fff"/><polygon points="1070.53,594.75 1108.8,594.32 1109.1,627.86 1070.92,628.2" fill="url(#p47)" class="sg"/>
<polygon points="1070.92,628.2 1109.1,627.86 1109.31,650.65 1071.19,650.99" fill="#fff" class="sg"/>
<polygon points="1071.19,650.99 1109.31,650.65 1111.5,890 1115,1182 1115.01,1183.2 1078.27,1183.5 1078.25,1182 1074,890" fill="#fff"/><polygon points="1071.19,650.99 1109.31,650.65 1111.5,890 1115,1182 1115.01,1183.2 1078.27,1183.5 1078.25,1182 1074,890" fill="url(#p48)" class="sg"/>
<path d="M1075.05 962.05L1112.36 961.95" class="dv"/>
<path d="M1075.28 978.05L1112.55 977.95" class="dv"/>
<path d="M1075.73 1008.8L1112.92 1008.7" class="dv"/>
<polygon points="1069.5,507.42 1108,507.05 1111.5,890 1115,1182 1115.01,1183.2 1078.27,1183.5 1078.25,1182 1074,890" class="bo"/>
<path d="M1032.91 507.59L1108.8 506.88" class="bt"/>
<polygon points="1124.61,471.76 1163.25,470.93 1163.88,533.54 1125.3,534.19" fill="#fff"/><polygon points="1124.61,471.76 1163.25,470.93 1163.88,533.54 1125.3,534.19" fill="url(#p49)" class="sg"/>
<polygon points="1125.3,534.19 1163.88,533.54 1164.11,555.38 1125.54,555.92" fill="#111" class="sg"/>
<polygon points="1125.54,555.92 1164.11,555.38 1164.38,582.36 1125.84,582.94" fill="#fff"/><polygon points="1125.54,555.92 1164.11,555.38 1164.38,582.36 1125.84,582.94" fill="url(#p50)" class="sg"/>
<polygon points="1125.84,582.94 1164.38,582.36 1167.5,890 1171.25,1181 1171.27,1182.75 1132.52,1183.06 1132.5,1181 1129.25,890" fill="#fff"/><polygon points="1125.84,582.94 1164.38,582.36 1167.5,890 1171.25,1181 1171.27,1182.75 1132.52,1183.06 1132.5,1181 1129.25,890" fill="url(#p51)" class="sg"/>
<polygon points="1124.61,471.76 1163.25,470.93 1167.5,890 1171.25,1181 1171.27,1182.75 1132.52,1183.06 1132.5,1181 1129.25,890" class="bo"/>
<polygon points="1163.26,471.75 1200.75,470.94 1201.7,570.28 1164.26,570.82" fill="#fff"/><polygon points="1163.26,471.75 1200.75,470.94 1201.7,570.28 1164.26,570.82" fill="url(#p52)" class="sg"/>
<polygon points="1164.26,570.82 1201.7,570.28 1202.05,606.73 1164.63,607.37" fill="#fff"/><polygon points="1164.26,570.82 1201.7,570.28 1202.05,606.73 1164.63,607.37" fill="url(#p53)" class="sg"/>
<polygon points="1164.63,607.37 1202.05,606.73 1204.75,890 1209.5,1181 1209.53,1182.75 1171.27,1182.75 1171.25,1181 1167.5,890" fill="#fff"/><polygon points="1164.63,607.37 1202.05,606.73 1204.75,890 1209.5,1181 1209.53,1182.75 1171.27,1182.75 1171.25,1181 1167.5,890" fill="url(#p54)" class="sg"/>
<path d="M1168.05 932.62L1205.44 932.37" class="dv"/>
<path d="M1168.3 952.1L1205.76 951.89" class="dv"/>
<path d="M1168.65 978.88L1206.2 978.6" class="dv"/>
<polygon points="1163.26,471.75 1200.75,470.94 1204.75,890 1209.5,1181 1209.53,1182.75 1171.27,1182.75 1171.25,1181 1167.5,890" class="bo"/>
<path d="M1123.81 472.17L1201.55 470.53" class="bt"/>
<polygon points="1218.25,391.46 1254.5,391.14 1255.39,446.1 1218.7,446.52" fill="#fff"/><polygon points="1218.25,391.46 1254.5,391.14 1255.39,446.1 1218.7,446.52" fill="url(#p55)" class="sg"/>
<polygon points="1218.7,446.52 1255.39,446.1 1255.91,477.81 1218.96,478.31" fill="#fff"/><polygon points="1218.7,446.52 1255.39,446.1 1255.91,477.81 1218.96,478.31" fill="url(#p56)" class="sg"/>
<polygon points="1218.96,478.31 1255.91,477.81 1257,545 1260.75,890 1264.5,1181 1264.52,1182.75 1226.52,1182.75 1226.5,1181 1223.25,890 1219.5,545" fill="#fff"/><polygon points="1218.96,478.31 1255.91,477.81 1257,545 1260.75,890 1264.5,1181 1264.52,1182.75 1226.52,1182.75 1226.5,1181 1223.25,890 1219.5,545" fill="url(#p57)" class="sg"/>
<polygon points="1218.25,391.46 1254.5,391.14 1257,545 1260.75,890 1264.5,1181 1264.52,1182.75 1226.52,1182.75 1226.5,1181 1223.25,890 1219.5,545" class="bo"/>
<polygon points="1254.51,391.48 1294,391.12 1294.14,501.06 1256.29,501.57" fill="#fff"/><polygon points="1254.51,391.48 1294,391.12 1294.14,501.06 1256.29,501.57" fill="url(#p58)" class="sg"/>
<polygon points="1256.29,501.57 1294.14,501.06 1294.19,539.81 1256.92,540.31" fill="#fff"/><polygon points="1256.29,501.57 1294.14,501.06 1294.19,539.81 1256.92,540.31" fill="url(#p59)" class="sg"/>
<polygon points="1256.92,540.31 1294.19,539.81 1294.2,545 1294.84,593.59 1257.53,594 1257,545" fill="#fff" class="sg"/>
<polygon points="1257.53,594 1294.84,593.59 1298.75,890 1303.25,1181 1303.28,1182.75 1264.52,1182.75 1264.5,1181 1260.75,890" fill="#fff"/><polygon points="1257.53,594 1294.84,593.59 1298.75,890 1303.25,1181 1303.28,1182.75 1264.52,1182.75 1264.5,1181 1260.75,890" fill="url(#p60)" class="sg"/>
<path d="M1260.98 907.7L1299.02 907.3" class="dv"/>
<path d="M1261.2 925.22L1299.29 924.77" class="dv"/>
<path d="M1261.56 953.24L1299.72 952.74" class="dv"/>
<polygon points="1254.51,391.48 1294,391.12 1294.2,545 1298.75,890 1303.25,1181 1303.28,1182.75 1264.52,1182.75 1264.5,1181 1260.75,890 1257,545" class="bo"/>
<path d="M1217.46 391.63L1294.8 390.96" class="bt"/>
<polygon points="1310.75,372.29 1349,371.83 1349.4,441.05 1311.25,441.58" fill="#fff"/><polygon points="1310.75,372.29 1349,371.83 1349.4,441.05 1311.25,441.58" fill="url(#p61)" class="sg"/>
<polygon points="1311.25,441.58 1349.4,441.05 1349.61,476.8 1311.51,477.32" fill="#fff"/><polygon points="1311.25,441.58 1349.4,441.05 1349.61,476.8 1311.51,477.32" fill="url(#p62)" class="sg"/>
<polygon points="1311.51,477.32 1349.61,476.8 1350,545 1354,890 1357.5,1181 1357.52,1182.75 1319.02,1182.75 1319,1181 1315.75,890 1312,545" fill="#fff"/><polygon points="1311.51,477.32 1349.61,476.8 1350,545 1354,890 1357.5,1181 1357.52,1182.75 1319.02,1182.75 1319,1181 1315.75,890 1312,545" fill="url(#p63)" class="sg"/>
<polygon points="1310.75,372.29 1349,371.83 1350,545 1354,890 1357.5,1181 1357.52,1182.75 1319.02,1182.75 1319,1181 1315.75,890 1312,545" class="bo"/>
<polygon points="1349,372.28 1385,371.85 1385.52,492.82 1349.7,493.31" fill="#fff"/><polygon points="1349,372.28 1385,371.85 1385.52,492.82 1349.7,493.31" fill="url(#p64)" class="sg"/>
<polygon points="1349.7,493.31 1385.52,492.82 1385.7,532.82 1349.93,533.31" fill="#fff"/><polygon points="1349.7,493.31 1385.52,492.82 1385.7,532.82 1349.93,533.31" fill="url(#p65)" class="sg"/>
<polygon points="1349.93,533.31 1385.7,532.82 1385.75,545 1385.85,551.82 1350.08,552.31 1350,545" fill="#fff" class="sg"/>
<polygon points="1350.08,552.31 1385.85,551.82 1390.75,890 1395.75,1181 1395.78,1182.56 1357.52,1182.75 1357.5,1181 1354,890" fill="#fff"/><polygon points="1350.08,552.31 1385.85,551.82 1390.75,890 1395.75,1181 1395.78,1182.56 1357.52,1182.75 1357.5,1181 1354,890" fill="url(#p66)" class="sg"/>
<path d="M1353.89 880.25L1390.6 879.75" class="dv"/>
<path d="M1354.12 899.75L1390.91 899.25" class="dv"/>
<path d="M1354.44 926.49L1391.37 926" class="dv"/>
<polygon points="1349,372.28 1385,371.85 1385.75,545 1390.75,890 1395.75,1181 1395.78,1182.56 1357.52,1182.75 1357.5,1181 1354,890 1350,545" class="bo"/>
<path d="M1309.95 372.52L1385.8 371.62" class="bt"/>
<polygon points="1402.01,265.6 1440,265.45 1440.62,351.25 1402.77,351.25" fill="#fff"/><polygon points="1402.01,265.6 1440,265.45 1440.62,351.25 1402.77,351.25" fill="url(#p67)" class="sg"/>
<polygon points="1402.77,351.25 1440.62,351.25 1440.93,395 1403.16,395" fill="#fff"/><polygon points="1402.77,351.25 1440.62,351.25 1440.93,395 1403.16,395" fill="url(#p68)" class="sg"/>
<polygon points="1403.16,395 1440.93,395 1442,545 1446,890 1450.75,1181 1450.77,1182.29 1412.02,1182.48 1412,1181 1407.5,890 1404.5,545" fill="#fff"/><polygon points="1403.16,395 1440.93,395 1442,545 1446,890 1450.75,1181 1450.77,1182.29 1412.02,1182.48 1412,1181 1407.5,890 1404.5,545" fill="url(#p69)" class="sg"/>
<polygon points="1402.01,265.6 1440,265.45 1442,545 1446,890 1450.75,1181 1450.77,1182.29 1412.02,1182.48 1412,1181 1407.5,890 1404.5,545" class="bo"/>
<polygon points="1440,265.6 1476,265.35 1476.68,391.25 1440.9,391.25" fill="#fff"/><polygon points="1440,265.6 1476,265.35 1476.68,391.25 1440.9,391.25" fill="url(#p70)" class="sg"/>
<polygon points="1440.9,391.25 1476.68,391.25 1476.9,433.5 1441.2,433.5" fill="#fff"/><polygon points="1440.9,391.25 1476.68,391.25 1476.9,433.5 1441.2,433.5" fill="url(#p71)" class="sg"/>
<polygon points="1441.2,433.5 1476.9,433.5 1477.19,487.49 1441.59,487.52" fill="#fff" class="sg"/>
<polygon points="1441.59,487.52 1477.19,487.49 1477.5,545 1481.5,890 1488.25,1181 1488.27,1181.97 1450.77,1182.29 1450.75,1181 1446,890 1442,545" fill="#fff"/><polygon points="1441.59,487.52 1477.19,487.49 1477.5,545 1481.5,890 1488.25,1181 1488.27,1181.97 1450.77,1182.29 1450.75,1181 1446,890 1442,545" fill="url(#p72)" class="sg"/>
<path d="M1445.48 845.58L1480.98 845.24" class="dv"/>
<path d="M1445.73 866.61L1481.23 866.4" class="dv"/>
<path d="M1446.06 893.89L1481.58 893.51" class="dv"/>
<polygon points="1440,265.6 1476,265.35 1477.5,545 1481.5,890 1488.25,1181 1488.27,1181.97 1450.77,1182.29 1450.75,1181 1446,890 1442,545" class="bo"/>
<path d="M1401.21 265.68L1476.8 265.28" class="bt"/>
<polygon points="1493.5,337.35 1530.25,336.82 1530.72,415.32 1493.69,415.83" fill="#fff"/><polygon points="1493.5,337.35 1530.25,336.82 1530.72,415.32 1493.69,415.83" fill="url(#p73)" class="sg"/>
<polygon points="1493.69,415.83 1530.72,415.32 1530.86,437.82 1493.74,438.33" fill="#111" class="sg"/>
<polygon points="1493.74,438.33 1530.86,437.82 1531.1,478.57 1493.84,479.08" fill="#fff"/><polygon points="1493.74,438.33 1530.86,437.82 1531.1,478.57 1493.84,479.08" fill="url(#p74)" class="sg"/>
<polygon points="1493.84,479.08 1531.1,478.57 1531.5,545 1536.5,890 1542,1180 1542.03,1181.5 1505.29,1181.82 1505.25,1180 1499,890 1494,545" fill="#fff"/><polygon points="1493.84,479.08 1531.1,478.57 1531.5,545 1536.5,890 1542,1180 1542.03,1181.5 1505.29,1181.82 1505.25,1180 1499,890 1494,545" fill="url(#p75)" class="sg"/>
<polygon points="1493.5,337.35 1530.25,336.82 1531.5,545 1536.5,890 1542,1180 1542.03,1181.5 1505.29,1181.82 1505.25,1180 1499,890 1494,545" class="bo"/>
<polygon points="1530.25,337.36 1568.5,336.8 1568.5,466.81 1531.03,467.33" fill="#fff"/><polygon points="1530.25,337.36 1568.5,336.8 1568.5,466.81 1531.03,467.33" fill="url(#p76)" class="sg"/>
<polygon points="1531.03,467.33 1568.5,466.81 1568.5,507.83 1531.28,508.3" fill="#fff"/><polygon points="1531.03,467.33 1568.5,466.81 1568.5,507.83 1531.28,508.3" fill="url(#p77)" class="sg"/>
<polygon points="1531.28,508.3 1568.5,507.83 1568.5,545 1572.75,890 1579.5,1180 1579.53,1181.3 1542.03,1181.5 1542,1180 1536.5,890 1531.5,545" fill="#fff"/><polygon points="1531.28,508.3 1568.5,507.83 1568.5,545 1572.75,890 1579.5,1180 1579.53,1181.3 1542.03,1181.5 1542,1180 1536.5,890 1531.5,545" fill="url(#p78)" class="sg"/>
<path d="M1535.75 838.22L1572.11 837.81" class="dv"/>
<path d="M1535.99 854.78L1572.31 854.43" class="dv"/>
<path d="M1536.35 879.96L1572.62 879.65" class="dv"/>
<polygon points="1530.25,337.36 1568.5,336.8 1568.5,545 1572.75,890 1579.5,1180 1579.53,1181.3 1542.03,1181.5 1542,1180 1536.5,890 1531.5,545" class="bo"/>
<path d="M1492.7 337.62L1569.3 336.54" class="bt"/>
<polygon points="1585.75,375.2 1624,374.88 1624.5,443.6 1586.05,443.99" fill="#fff"/><polygon points="1585.75,375.2 1624,374.88 1624.5,443.6 1586.05,443.99" fill="url(#p79)" class="sg"/>
<polygon points="1586.05,443.99 1624.5,443.6 1624.77,479.8 1586.21,480.31" fill="#111" class="sg"/>
<polygon points="1586.21,480.31 1624.77,479.8 1625.03,514.78 1586.37,515.35" fill="#fff"/><polygon points="1586.21,480.31 1624.77,479.8 1625.03,514.78 1586.37,515.35" fill="url(#p80)" class="sg"/>
<polygon points="1586.37,515.35 1625.03,514.78 1625.25,545 1629,890 1635.25,1180 1635.27,1181 1596.53,1181.21 1596.5,1180 1590.25,890 1586.5,545" fill="#fff"/><polygon points="1586.37,515.35 1625.03,514.78 1625.25,545 1629,890 1635.25,1180 1635.27,1181 1596.53,1181.21 1596.5,1180 1590.25,890 1586.5,545" fill="url(#p81)" class="sg"/>
<polygon points="1585.75,375.2 1624,374.88 1625.25,545 1629,890 1635.25,1180 1635.27,1181 1596.53,1181.21 1596.5,1180 1590.25,890 1586.5,545" class="bo"/>
<polygon points="1624,375.2 1662.75,374.88 1662.6,474.81 1624.74,475.3" fill="#fff"/><polygon points="1624,375.2 1662.75,374.88 1662.6,474.81 1624.74,475.3" fill="url(#p82)" class="sg"/>
<polygon points="1624.74,475.3 1662.6,474.81 1662.55,509.29 1624.99,509.83" fill="#fff"/><polygon points="1624.74,475.3 1662.6,474.81 1662.55,509.29 1624.99,509.83" fill="url(#p83)" class="sg"/>
<polygon points="1624.99,509.83 1662.55,509.29 1662.5,545 1666.25,890 1673.5,1180 1673.52,1180.69 1635.27,1181 1635.25,1180 1629,890 1625.25,545" fill="#fff"/><polygon points="1624.99,509.83 1662.55,509.29 1662.5,545 1666.25,890 1673.5,1180 1673.52,1180.69 1635.27,1181 1635.25,1180 1629,890 1625.25,545" fill="url(#p84)" class="sg"/>
<path d="M1628.3 825.2L1665.54 824.82" class="dv"/>
<path d="M1628.47 841.28L1665.71 840.74" class="dv"/>
<path d="M1628.73 865.6L1665.98 864.82" class="dv"/>
<polygon points="1624,375.2 1662.75,374.88 1662.5,545 1666.25,890 1673.5,1180 1673.52,1180.69 1635.27,1181 1635.25,1180 1629,890 1625.25,545" class="bo"/>
<path d="M1584.95 375.36L1663.55 374.72" class="bt"/>
<polygon points="1677.03,445.17 1714.76,444.22 1716.48,502.28 1678.46,502.94" fill="#fff"/><polygon points="1677.03,445.17 1714.76,444.22 1716.48,502.28 1678.46,502.94" fill="url(#p85)" class="sg"/>
<polygon points="1678.46,502.94 1716.48,502.28 1717.63,541.08 1679.41,541.54" fill="#111" class="sg"/>
<polygon points="1679.41,541.54 1717.63,541.08 1717.75,545 1718.07,567.35 1679.81,567.75 1679.5,545" fill="#fff"/><polygon points="1679.41,541.54 1717.63,541.08 1717.75,545 1718.07,567.35 1679.81,567.75 1679.5,545" fill="url(#p86)" class="sg"/>
<polygon points="1679.81,567.75 1718.07,567.35 1722.75,890 1727.75,1179 1727.77,1180.24 1689.03,1180.56 1689,1179 1684.25,890" fill="#fff"/><polygon points="1679.81,567.75 1718.07,567.35 1722.75,890 1727.75,1179 1727.77,1180.24 1689.03,1180.56 1689,1179 1684.25,890" fill="url(#p87)" class="sg"/>
<polygon points="1677.03,445.17 1714.76,444.22 1717.75,545 1722.75,890 1727.75,1179 1727.77,1180.24 1689.03,1180.56 1689,1179 1684.25,890 1679.5,545" class="bo"/>
<polygon points="1714.79,445.18 1754,444.2 1755,524.81 1717.17,525.35" fill="#fff"/><polygon points="1714.79,445.18 1754,444.2 1755,524.81 1717.17,525.35" fill="url(#p88)" class="sg"/>
<polygon points="1717.17,525.35 1755,524.81 1755.25,545 1755.42,556.11 1717.92,556.5 1717.75,545" fill="#fff"/><polygon points="1717.17,525.35 1755,524.81 1755.25,545 1755.42,556.11 1717.92,556.5 1717.75,545" fill="url(#p89)" class="sg"/>
<polygon points="1717.92,556.5 1755.42,556.11 1760.6,890 1767,1179 1767.02,1179.74 1727.77,1180.24 1727.75,1179 1722.75,890" fill="#fff"/><polygon points="1717.92,556.5 1755.42,556.11 1760.6,890 1767,1179 1767.02,1179.74 1727.77,1180.24 1727.75,1179 1722.75,890" fill="url(#p90)" class="sg"/>
<path d="M1718.64 606.53L1756.2 606.08" class="dv"/>
<path d="M1722.12 846.6L1759.92 845.93" class="dv"/>
<path d="M1722.33 860.85L1760.14 860.17" class="dv"/>
<path d="M1722.7 886.51L1760.54 885.99" class="dv"/>
<polygon points="1714.79,445.18 1754,444.2 1755.25,545 1760.6,890 1767,1179 1767.02,1179.74 1727.77,1180.24 1727.75,1179 1722.75,890 1717.75,545" class="bo"/>
<path d="M1676.24 445.65L1754.8 443.71" class="bt"/>
<polygon points="1774.01,407.8 1810.99,406.73 1811.74,441.01 1774.63,441.88" fill="#fff"/><polygon points="1774.01,407.8 1810.99,406.73 1811.74,441.01 1774.63,441.88" fill="url(#p91)" class="sg"/>
<polygon points="1774.63,441.88 1811.74,441.01 1812.35,469.3 1775.14,470" fill="#fff"/><polygon points="1774.63,441.88 1811.74,441.01 1812.35,469.3 1775.14,470" fill="url(#p92)" class="sg"/>
<polygon points="1775.14,470 1812.35,469.3 1814,545 1820.25,890 1825.25,1178 1825.27,1179 1787.78,1179.47 1787.75,1178 1782.75,890 1776.5,545" fill="#fff"/><polygon points="1775.14,470 1812.35,469.3 1814,545 1820.25,890 1825.25,1178 1825.27,1179 1787.78,1179.47 1787.75,1178 1782.75,890 1776.5,545" fill="url(#p93)" class="sg"/>
<polygon points="1774.01,407.8 1810.99,406.73 1814,545 1820.25,890 1825.25,1178 1825.27,1179 1787.78,1179.47 1787.75,1178 1782.75,890 1776.5,545" class="bo"/>
<polygon points="1811.02,407.8 1848.99,406.71 1850.51,490.29 1812.83,490.96" fill="#fff"/><polygon points="1811.02,407.8 1848.99,406.71 1850.51,490.29 1812.83,490.96" fill="url(#p94)" class="sg"/>
<polygon points="1812.83,490.96 1850.51,490.29 1850.93,513.54 1813.33,514.19" fill="#fff"/><polygon points="1812.83,490.96 1850.51,490.29 1850.93,513.54 1813.33,514.19" fill="url(#p95)" class="sg"/>
<polygon points="1813.33,514.19 1850.93,513.54 1851.1,522.79 1813.53,523.43" fill="#fff" class="sg"/>
<polygon points="1813.53,523.43 1851.1,522.79 1851.5,545 1857,890 1863.26,1178.49 1825.27,1179 1825.25,1178 1820.25,890 1814,545" fill="#fff"/><polygon points="1813.53,523.43 1851.1,522.79 1851.5,545 1857,890 1863.26,1178.49 1825.27,1179 1825.25,1178 1820.25,890 1814,545" fill="url(#p96)" class="sg"/>
<path d="M1815.29 615.98L1852.62 615.22" class="dv"/>
<path d="M1819.36 840.65L1856.21 840.37" class="dv"/>
<path d="M1819.58 853.12L1856.41 852.89" class="dv"/>
<path d="M1820.09 881.39L1856.86 881.11" class="dv"/>
<polygon points="1811.02,407.8 1848.99,406.71 1851.5,545 1857,890 1863.26,1178.49 1825.27,1179 1825.25,1178 1820.25,890 1814,545" class="bo"/>
<path d="M1773.22 408.34L1849.78 406.17" class="bt"/>
<polygon points="1866.02,363.65 1904,362.79 1904.85,404.23 1866.99,405.21" fill="#fff"/><polygon points="1866.02,363.65 1904,362.79 1904.85,404.23 1866.99,405.21" fill="url(#p97)" class="sg"/>
<polygon points="1866.99,405.21 1904.85,404.23 1905.47,434.26 1867.68,435.1" fill="#111" class="sg"/>
<polygon points="1867.68,435.1 1905.47,434.26 1906.07,463.53 1868.36,464.24" fill="#fff"/><polygon points="1867.68,435.1 1905.47,434.26 1906.07,463.53 1868.36,464.24" fill="url(#p98)" class="sg"/>
<polygon points="1868.36,464.24 1906.07,463.53 1907.75,545 1913.5,890 1918.5,1177 1918.51,1177.74 1881.02,1178.25 1881,1177 1875.25,890 1870.25,545" fill="#fff"/><polygon points="1868.36,464.24 1906.07,463.53 1907.75,545 1913.5,890 1918.5,1177 1918.51,1177.74 1881.02,1178.25 1881,1177 1875.25,890 1870.25,545" fill="url(#p99)" class="sg"/>
<polygon points="1866.02,363.65 1904,362.79 1907.75,545 1913.5,890 1918.5,1177 1918.51,1177.74 1881.02,1178.25 1881,1177 1875.25,890 1870.25,545" class="bo"/>
<polygon points="1904.01,363.64 1941.5,362.78 1942.99,453.53 1905.88,454.27" fill="#fff"/><polygon points="1904.01,363.64 1941.5,362.78 1942.99,453.53 1905.88,454.27" fill="url(#p100)" class="sg"/>
<polygon points="1905.88,454.27 1942.99,453.53 1943.38,476.8 1906.36,477.45" fill="#fff"/><polygon points="1905.88,454.27 1942.99,453.53 1943.38,476.8 1906.36,477.45" fill="url(#p101)" class="sg"/>
<polygon points="1906.36,477.45 1943.38,476.8 1944.5,545 1950.25,890 1956,1177.2 1918.51,1177.74 1918.5,1177 1913.5,890 1907.75,545" fill="#fff"/><polygon points="1906.36,477.45 1943.38,476.8 1944.5,545 1950.25,890 1956,1177.2 1918.51,1177.74 1918.5,1177 1913.5,890 1907.75,545" fill="url(#p102)" class="sg"/>
<path d="M1907.79 547.32L1944.53 546.84" class="dv"/>
<path d="M1912.13 807.72L1948.87 807.32" class="dv"/>
<path d="M1912.36 821.46L1949.1 821.06" class="dv"/>
<path d="M1912.96 857.71L1949.71 857.31" class="dv"/>
<polygon points="1904.01,363.64 1941.5,362.78 1944.5,545 1950.25,890 1956,1177.2 1918.51,1177.74 1918.5,1177 1913.5,890 1907.75,545" class="bo"/>
<path d="M1865.23 364.08L1942.29 362.36" class="bt"/>
<path d="M379.5 1194.36 L381 1194.3 L423 1192.75 L517 1191.5 L612 1190.75 L707 1189 L800 1188.25 L893 1186 L985 1184.5 L1078 1183.5 L1171 1182.75 L1264 1182.75 L1357 1182.75 L1450 1182.3 L1542 1181.5 L1635 1181 L1727 1180.25 L1825 1179 L1918 1177.75 L1956 1177.2 L1957 1177.19" class="ax"/>
<path d="M369.4 249 L369.5 249 L897 247.3 L1464 244 L1939 236 L1940.2 235.98" class="fr"/>
<path d="M1939.6 235.5L1941.6 364" class="frr"/>
<path d="M370.6 248 L370.95 280.66 L371.3 313.31 L371.66 345.97 L372.01 378.62 L372.36 411.28 L372.71 443.93 L373.06 476.59 L373.41 509.24 L373.77 541.9 L374.09 574.55 L374.41 607.21 L374.74 639.86 L375.06 672.52 L375.38 705.17 L375.71 737.83 L376.03 770.48 L376.35 803.14 L376.67 835.79 L377 868.45 L377.32 901.1 L377.64 933.76 L377.99 966.41 L378.45 999.07 L378.91 1031.72 L379.37 1064.38 L379.83 1097.03 L380.29 1129.69 L380.75 1162.34 L381.21 1195" class="ya"/>
<path d="M376.05 248 L376.4 280.66 L376.75 313.31 L377.11 345.97 L377.46 378.62 L377.81 411.28 L378.16 443.93 L378.51 476.59 L378.86 509.24 L379.22 541.9 L379.54 574.55 L379.86 607.21 L380.19 639.86 L380.51 672.52 L380.83 705.17 L381.16 737.83 L381.48 770.48 L381.8 803.14 L382.12 835.79 L382.45 868.45 L382.77 901.1 L383.09 933.76 L383.44 966.41 L383.9 999.07 L384.36 1031.72 L384.82 1064.38 L385.28 1097.03 L385.74 1129.69 L386.2 1162.34 L386.66 1195" class="yb"/>
<path d="M381.01 1194.41L386.01 1194.36M380.9 1186.74L385.9 1186.69M380.79 1179.06L385.79 1179.01M380.68 1171.39L385.68 1171.34M380.57 1163.71L385.57 1163.66M380.46 1156.04L385.46 1155.99M380.36 1148.36L385.36 1148.31M380.25 1140.69L385.25 1140.64M380.14 1133.01L385.14 1132.96M380.03 1125.34L385.03 1125.29M379.92 1117.66L384.92 1117.61M379.81 1109.53L384.81 1109.48M379.69 1101.4L384.69 1101.35M379.58 1093.27L384.58 1093.22M379.46 1085.14L384.46 1085.09M379.35 1077.01L384.35 1076.96M379.24 1068.88L384.24 1068.83M379.12 1060.75L384.12 1060.7M379.01 1052.62L384.01 1052.57M378.89 1044.49L383.89 1044.44M378.78 1036.36L383.78 1036.31M378.67 1028.65L383.67 1028.6M378.56 1020.94L383.56 1020.89M378.45 1013.23L383.45 1013.18M378.34 1005.52L383.34 1005.47M378.23 997.81L383.23 997.76M378.12 990.1L383.12 990.05M378.02 982.39L383.02 982.34M377.91 974.68L382.91 974.63M377.8 966.97L382.8 966.92M377.69 959.25L382.69 959.2M377.62 951.48L382.62 951.43M377.54 943.71L382.54 943.66M377.46 935.94L382.46 935.89M377.39 928.17L382.39 928.12M377.31 920.4L382.31 920.35M377.23 912.63L382.23 912.58M377.16 904.86L382.16 904.81M377.08 897.09L382.08 897.04M377 889.32L382 889.27M376.92 881.55L381.92 881.5M376.85 873.65L381.85 873.6M376.77 865.75L381.77 865.7M376.69 857.85L381.69 857.8M376.61 849.95L381.61 849.9M376.53 842.05L381.53 842M376.46 834.15L381.46 834.1M376.38 826.25L381.38 826.2M376.3 818.35L381.3 818.3M376.22 810.45L381.22 810.4M376.14 802.55L381.14 802.5M376.07 794.8L381.07 794.75M375.99 787.05L380.99 787M375.91 779.3L380.91 779.25M375.84 771.55L380.84 771.5M375.76 763.8L380.76 763.75M375.69 756.05L380.69 756M375.61 748.3L380.61 748.25M375.53 740.55L380.53 740.5M375.46 732.8L380.46 732.75M375.38 725.05L380.38 725M375.3 717.18L380.3 717.13M375.22 709.3L380.22 709.25M375.15 701.43L380.15 701.38M375.07 693.55L380.07 693.5M374.99 685.68L379.99 685.63M374.91 677.8L379.91 677.75M374.83 669.92L379.83 669.87M374.76 662.05L379.76 662M374.68 654.17L379.68 654.12M374.6 646.3L379.6 646.25M374.52 638.42L379.52 638.37M374.45 630.55L379.45 630.5M374.37 622.67L379.37 622.62M374.29 614.79L379.29 614.74M374.21 606.92L379.21 606.87M374.13 599.04L379.13 598.99M374.06 591.17L379.06 591.12M373.98 583.29L378.98 583.24M373.9 575.41L378.9 575.36M373.82 567.54L378.82 567.49M373.74 559.58L378.74 559.53M373.67 551.63L378.67 551.58M373.59 543.68L378.59 543.63M373.5 535.72L378.5 535.67M373.41 527.77L378.41 527.72M373.33 519.82L378.33 519.77M373.24 511.86L378.24 511.81M373.16 503.91L378.16 503.86M373.07 495.95L378.07 495.9M372.99 488L377.99 487.95M372.9 479.9L377.9 479.85M372.81 471.8L377.81 471.75M372.72 463.7L377.72 463.65M372.64 455.6L377.64 455.55M372.55 447.5L377.55 447.45M372.46 439.4L377.46 439.35M372.37 431.3L377.37 431.25M372.29 423.2L377.29 423.15M372.2 415.1L377.2 415.05M372.11 407L377.11 406.95M372.03 399.22L377.03 399.17M371.95 391.45L376.95 391.4M371.86 383.67L376.86 383.62M371.78 375.9L376.78 375.85M371.69 368.12L376.69 368.07M371.61 360.35L376.61 360.3M371.53 352.57L376.53 352.52M371.44 344.8L376.44 344.75M371.36 337.02L376.36 336.97M371.28 329.25L376.28 329.2M371.19 321.22L376.19 321.17M371.1 313.19L376.1 313.14M371.02 305.16L376.02 305.11M370.93 297.14L375.93 297.09M370.84 289.11L375.84 289.06M370.76 281.08L375.76 281.03M370.67 273.05L375.67 273M370.58 265.03L375.58 264.98M370.5 257L375.5 256.95M370.41 248.97L375.41 248.92" class="tk"/>
</g>
<g id="legend">
<polygon points="415,250.36 453.7,250.24 454.83,329.24 416.26,329.35" fill="url(#p103)"/>
<path d="M415 250.36L416.26 329.35M453.7 250.24L454.83 329.24" class="lgo"/>
<polygon points="416.26,329.36 454.83,329.24 455.94,406.94 417.49,407.05" fill="#111"/>
<polygon points="417.49,407.06 455.94,406.94 457.09,487.44 418.77,487.55" fill="url(#p104)"/>
<path d="M417.49 407.06L418.77 487.55M455.94 406.94L457.09 487.44" class="lgo"/>
<polygon points="418.77,487.56 457.09,487.44 458.21,565.54 420.01,565.65" fill="url(#p105)"/>
<path d="M418.77 487.56L420.01 565.65M457.09 487.44L458.21 565.54" class="lgo"/>
<polygon points="564.5,250.36 602,250.24 602.57,289.24 565.1,289.35" fill="url(#p106)" class="lgb"/><polygon points="564.5,250.36 602,250.24 602.57,289.24 565.1,289.35" fill="url(#p107)"/>
<polygon points="565.1,289.36 602.57,289.24 603.16,329.24 565.71,329.35" fill="url(#p108)" class="lgb"/>
<polygon points="565.71,329.36 603.16,329.24 603.73,368.74 566.31,368.85" fill="#fff" class="lgb"/>
<polygon points="566.31,368.86 603.73,368.74 606.6,564.74 569.3,564.85" fill="url(#p110)" class="lgb"/>
<path d="M566.91 408.05L604.31 407.95" class="dv"/>
<path d="M567.5 447.05L604.88 446.95" class="dv"/>
<path d="M568.1 486.35L605.45 486.25" class="dv"/>
<path d="M568.69 525.05L606.02 524.95" class="dv"/>
<polygon points="564.5,250.36 602,250.24 606.6,564.73 569.3,564.84" class="lgb" fill="none"/>
<path d="M752.5 375.3 L780 376.2 Q788 376.6 788 385 L788 462 Q788 467.5 793 467.6 Q788 467.8 788 473 L787.6 546 Q787.4 555.5 779 555.8 L756 556" class="brk"/>
</g>
<g id="labels">
<text transform="translate(321.5 258) rotate(-0.5) scale(0.8 1)" font-size="20">1,200</text>
<text transform="translate(322 336.8) rotate(-0.5) scale(0.77778 1)" font-size="20">1,100</text>
<text transform="translate(321.5 415.6) rotate(-0.5) scale(0.8 1)" font-size="20">1,000</text>
<text transform="translate(334 496.8) rotate(-0.5) scale(0.86667 1)" font-size="20">900</text>
<text transform="translate(335.4 574.8) rotate(-0.5) scale(0.86 1)" font-size="20">800</text>
<text transform="translate(336.7 653.8) rotate(-0.5) scale(0.85 1)" font-size="20">700</text>
<text transform="translate(336.7 732.3) rotate(-0.5) scale(0.85 1)" font-size="20">600</text>
<text transform="translate(336.3 811.3) rotate(-0.5) scale(0.86667 1)" font-size="20">500</text>
<text transform="translate(336.5 890.5) rotate(-0.5) scale(0.86667 1)" font-size="20">400</text>
<text transform="translate(337.7 967.3) rotate(-0.5) scale(0.86667 1)" font-size="20">300</text>
<text transform="translate(338 1044.3) rotate(-0.5) scale(0.86667 1)" font-size="20">200</text>
<text transform="translate(339 1124.3) rotate(-0.5) scale(0.86667 1)" font-size="20">100</text>
<text transform="translate(360.5 1200.8) rotate(-0.5) scale(0.85 1)" font-size="20">0</text>
<text transform="translate(409.3 1212.7) rotate(-0.6)" font-size="15.2">1918</text>
<text transform="translate(504 1211.5) rotate(-0.6)" font-size="15.2">1919</text>
<text transform="translate(597.8 1209.7) rotate(-0.6)" font-size="15.2">1920</text>
<text transform="translate(692.8 1207.6) rotate(-0.6)" font-size="15.2">1921</text>
<text transform="translate(787.3 1206.3) rotate(-0.6)" font-size="15.2">1922</text>
<text transform="translate(880.3 1203.7) rotate(-0.6)" font-size="15.2">1923</text>
<text transform="translate(973.8 1201.4) rotate(-0.6)" font-size="15.2">1924</text>
<text transform="translate(1065.5 1200.3) rotate(-0.6)" font-size="15.2">1925</text>
<text transform="translate(1158 1199.7) rotate(-0.6)" font-size="15.2">1926</text>
<text transform="translate(1252.5 1200.5) rotate(-0.6)" font-size="15.2">1927</text>
<text transform="translate(1345.5 1200.5) rotate(-0.6)" font-size="15.2">1928</text>
<text transform="translate(1438.3 1199.9) rotate(-0.6)" font-size="15.2">1929</text>
<text transform="translate(1527.3 1200.1) rotate(-0.6)" font-size="15.2">1930</text>
<text transform="translate(1620.3 1199.5) rotate(-0.6)" font-size="15.2">1931</text>
<text transform="translate(1715 1198.1) rotate(-0.6)" font-size="15.2">1932</text>
<text transform="translate(1807.5 1196.4) rotate(-0.6)" font-size="15.2">1933</text>
<text transform="translate(1904.3 1195.1) rotate(-0.6)" font-size="15.2">1934</text>
<text transform="translate(436 952.7) scale(0.75693 1)" font-size="20.3" class="halo" style="stroke-width:3.2">M</text>
<text transform="translate(436 952.7) scale(0.75693 1)" font-size="20.3" style="stroke-width:1.3">M</text>
<text transform="translate(424.7 1037.7) scale(0.79889 1)" font-size="20.3" class="halo" style="stroke-width:3.2">G&amp;F</text>
<text transform="translate(424.7 1037.7) scale(0.79889 1)" font-size="20.3" style="stroke-width:1.3">G&amp;F</text>
<text transform="translate(440.19 1106.95) scale(0.77865 1)" font-size="13.5" class="halo" style="stroke-width:2.4">L</text>
<text transform="translate(440.19 1106.95) scale(0.77865 1)" font-size="13.5" style="stroke-width:1.04">L</text>
<text transform="translate(436.7 1130.4) scale(0.82376 1)" font-size="20.3" class="halo" style="stroke-width:3.2">K</text>
<text transform="translate(436.7 1130.4) scale(0.82376 1)" font-size="20.3" style="stroke-width:1.3">K</text>
<text transform="translate(437.9 1169.2) scale(0.7604 1)" font-size="20.3" class="halo" style="stroke-width:3.2">G</text>
<text transform="translate(437.9 1169.2) scale(0.7604 1)" font-size="20.3" style="stroke-width:1.3">G</text>
<text transform="translate(529.2 941.7) scale(0.75693 1)" font-size="20.3" class="halo" style="stroke-width:3.2">M</text>
<text transform="translate(529.2 941.7) scale(0.75693 1)" font-size="20.3" style="stroke-width:1.3">M</text>
<text transform="translate(518.4 1031.2) scale(0.79889 1)" font-size="20.3" class="halo" style="stroke-width:3.2">G&amp;F</text>
<text transform="translate(518.4 1031.2) scale(0.79889 1)" font-size="20.3" style="stroke-width:1.3">G&amp;F</text>
<text transform="translate(533.14 1102.9) scale(0.77951 1)" font-size="14.85" class="halo" style="stroke-width:2.4">L</text>
<text transform="translate(533.14 1102.9) scale(0.77951 1)" font-size="14.85" style="stroke-width:1.09">L</text>
<text transform="translate(530.7 1121.7) scale(0.82376 1)" font-size="20.3" class="halo" style="stroke-width:3.2">K</text>
<text transform="translate(530.7 1121.7) scale(0.82376 1)" font-size="20.3" style="stroke-width:1.3">K</text>
<text transform="translate(531.7 1164.2) scale(0.7604 1)" font-size="20.3" class="halo" style="stroke-width:3.2">G</text>
<text transform="translate(531.7 1164.2) scale(0.7604 1)" font-size="20.3" style="stroke-width:1.3">G</text>
<text transform="translate(622 896.7) scale(0.75693 1)" font-size="20.3" class="halo" style="stroke-width:3.2">M</text>
<text transform="translate(622 896.7) scale(0.75693 1)" font-size="20.3" style="stroke-width:1.3">M</text>
<text transform="translate(611.7 1003.2) scale(0.79889 1)" font-size="20.3" class="halo" style="stroke-width:3.2">G&amp;F</text>
<text transform="translate(611.7 1003.2) scale(0.79889 1)" font-size="20.3" style="stroke-width:1.3">G&amp;F</text>
<text transform="translate(627.75 1082.62) scale(0.77903 1)" font-size="12.5" class="halo" style="stroke-width:2.4">L</text>
<text transform="translate(627.75 1082.62) scale(0.77903 1)" font-size="12.5" style="stroke-width:1">L</text>
<text transform="translate(624.7 1104.7) scale(0.82376 1)" font-size="20.3" class="halo" style="stroke-width:3.2">K</text>
<text transform="translate(624.7 1104.7) scale(0.82376 1)" font-size="20.3" style="stroke-width:1.3">K</text>
<text transform="translate(626.2 1154.2) scale(0.7604 1)" font-size="20.3" class="halo" style="stroke-width:3.2">G</text>
<text transform="translate(626.2 1154.2) scale(0.7604 1)" font-size="20.3" style="stroke-width:1.3">G</text>
<text transform="translate(717 884.7) scale(0.75693 1)" font-size="20.3" class="halo" style="stroke-width:3.2">M</text>
<text transform="translate(717 884.7) scale(0.75693 1)" font-size="20.3" style="stroke-width:1.3">M</text>
<text transform="translate(706.7 989.7) scale(0.79889 1)" font-size="20.3" class="halo" style="stroke-width:3.2">G&amp;F</text>
<text transform="translate(706.7 989.7) scale(0.79889 1)" font-size="20.3" style="stroke-width:1.3">G&amp;F</text>
<text transform="translate(722.75 1080.62) scale(0.77903 1)" font-size="12.5" class="halo" style="stroke-width:2.4">L</text>
<text transform="translate(722.75 1080.62) scale(0.77903 1)" font-size="12.5" style="stroke-width:1">L</text>
<text transform="translate(719.2 1099.7) scale(0.82376 1)" font-size="20.3" class="halo" style="stroke-width:3.2">K</text>
<text transform="translate(719.2 1099.7) scale(0.82376 1)" font-size="20.3" style="stroke-width:1.3">K</text>
<text transform="translate(720.4 1151.7) scale(0.7604 1)" font-size="20.3" class="halo" style="stroke-width:3.2">G</text>
<text transform="translate(720.4 1151.7) scale(0.7604 1)" font-size="20.3" style="stroke-width:1.3">G</text>
<text transform="translate(809 837.7) scale(0.75693 1)" font-size="20.3" class="halo" style="stroke-width:3.2">M</text>
<text transform="translate(809 837.7) scale(0.75693 1)" font-size="20.3" style="stroke-width:1.3">M</text>
<text transform="translate(798.7 957.2) scale(0.79889 1)" font-size="20.3" class="halo" style="stroke-width:3.2">G&amp;F</text>
<text transform="translate(798.7 957.2) scale(0.79889 1)" font-size="20.3" style="stroke-width:1.3">G&amp;F</text>
<text transform="translate(815.05 1058.13) scale(0.78005 1)" font-size="14.04" class="halo" style="stroke-width:2.4">L</text>
<text transform="translate(815.05 1058.13) scale(0.78005 1)" font-size="14.04" style="stroke-width:1.06">L</text>
<text transform="translate(813.2 1079.2) scale(0.82376 1)" font-size="20.3" class="halo" style="stroke-width:3.2">K</text>
<text transform="translate(813.2 1079.2) scale(0.82376 1)" font-size="20.3" style="stroke-width:1.3">K</text>
<text transform="translate(814.2 1141.2) scale(0.7604 1)" font-size="20.3" class="halo" style="stroke-width:3.2">G</text>
<text transform="translate(814.2 1141.2) scale(0.7604 1)" font-size="20.3" style="stroke-width:1.3">G</text>
<text transform="translate(899 760.7) scale(0.75693 1)" font-size="20.3" class="halo" style="stroke-width:3.2">M</text>
<text transform="translate(899 760.7) scale(0.75693 1)" font-size="20.3" style="stroke-width:1.3">M</text>
<text transform="translate(890.2 919.7) scale(0.79889 1)" font-size="20.3" class="halo" style="stroke-width:3.2">G&amp;F</text>
<text transform="translate(890.2 919.7) scale(0.79889 1)" font-size="20.3" style="stroke-width:1.3">G&amp;F</text>
<text transform="translate(906.78 1035.52) scale(0.77944 1)" font-size="14.31" class="halo" style="stroke-width:2.4">L</text>
<text transform="translate(906.78 1035.52) scale(0.77944 1)" font-size="14.31" style="stroke-width:1.07">L</text>
<text transform="translate(904.2 1056.7) scale(0.82376 1)" font-size="20.3" class="halo" style="stroke-width:3.2">K</text>
<text transform="translate(904.2 1056.7) scale(0.82376 1)" font-size="20.3" style="stroke-width:1.3">K</text>
<text transform="translate(904.9 1126.2) scale(0.7604 1)" font-size="20.3" class="halo" style="stroke-width:3.2">G</text>
<text transform="translate(904.9 1126.2) scale(0.7604 1)" font-size="20.3" style="stroke-width:1.3">G</text>
<text transform="translate(992 729.7) scale(0.75693 1)" font-size="20.3" class="halo" style="stroke-width:3.2">M</text>
<text transform="translate(992 729.7) scale(0.75693 1)" font-size="20.3" style="stroke-width:1.3">M</text>
<text transform="translate(983.2 884.2) scale(0.79889 1)" font-size="20.3" class="halo" style="stroke-width:3.2">G&amp;F</text>
<text transform="translate(983.2 884.2) scale(0.79889 1)" font-size="20.3" style="stroke-width:1.3">G&amp;F</text>
<text transform="translate(998.99 1009.05) scale(0.7791 1)" font-size="16.2" class="halo" style="stroke-width:2.4">L</text>
<text transform="translate(998.99 1009.05) scale(0.7791 1)" font-size="16.2" style="stroke-width:1.15">L</text>
<text transform="translate(996.9 1035.7) scale(0.82376 1)" font-size="20.3" class="halo" style="stroke-width:3.2">K</text>
<text transform="translate(996.9 1035.7) scale(0.82376 1)" font-size="20.3" style="stroke-width:1.3">K</text>
<text transform="translate(998.7 1110.4) scale(0.7604 1)" font-size="20.3" class="halo" style="stroke-width:3.2">G</text>
<text transform="translate(998.7 1110.4) scale(0.7604 1)" font-size="20.3" style="stroke-width:1.3">G</text>
<text transform="translate(1083 807.2) scale(0.74323 1)" font-size="20.3" class="halo" style="stroke-width:3.2">M,</text>
<text transform="translate(1083 807.2) scale(0.74323 1)" font-size="20.3" style="stroke-width:1.3">M,</text>
<text transform="translate(1073.7 825.2) scale(0.79889 1)" font-size="20.3" class="halo" style="stroke-width:3.2">G&amp;F</text>
<text transform="translate(1073.7 825.2) scale(0.79889 1)" font-size="20.3" style="stroke-width:1.3">G&amp;F</text>
<text transform="translate(1088.71 975.7) scale(0.77924 1)" font-size="17.28" class="halo" style="stroke-width:2.4">L</text>
<text transform="translate(1088.71 975.7) scale(0.77924 1)" font-size="17.28" style="stroke-width:1.19">L</text>
<text transform="translate(1087.7 1002.7) scale(0.82376 1)" font-size="20.3" class="halo" style="stroke-width:3.2">K</text>
<text transform="translate(1087.7 1002.7) scale(0.82376 1)" font-size="20.3" style="stroke-width:1.3">K</text>
<text transform="translate(1089.9 1096.7) scale(0.7604 1)" font-size="20.3" class="halo" style="stroke-width:3.2">G</text>
<text transform="translate(1089.9 1096.7) scale(0.7604 1)" font-size="20.3" style="stroke-width:1.3">G</text>
<text transform="translate(1172.2 767.2) scale(0.74323 1)" font-size="20.3" class="halo" style="stroke-width:3.2">M,</text>
<text transform="translate(1172.2 767.2) scale(0.74323 1)" font-size="20.3" style="stroke-width:1.3">M,</text>
<text transform="translate(1165.2 785.4) scale(0.79889 1)" font-size="20.3" class="halo" style="stroke-width:3.2">G&amp;F</text>
<text transform="translate(1165.2 785.4) scale(0.79889 1)" font-size="20.3" style="stroke-width:1.3">G&amp;F</text>
<text transform="translate(1180.76 948.77) scale(0.77872 1)" font-size="19" class="halo" style="stroke-width:2.4">L</text>
<text transform="translate(1180.76 948.77) scale(0.77872 1)" font-size="19" style="stroke-width:1.26">L</text>
<text transform="translate(1180.7 972.2) scale(0.82376 1)" font-size="20.3" class="halo" style="stroke-width:3.2">K</text>
<text transform="translate(1180.7 972.2) scale(0.82376 1)" font-size="20.3" style="stroke-width:1.3">K</text>
<text transform="translate(1182.4 1081.7) scale(0.7604 1)" font-size="20.3" class="halo" style="stroke-width:3.2">G</text>
<text transform="translate(1182.4 1081.7) scale(0.7604 1)" font-size="20.3" style="stroke-width:1.3">G</text>
<text transform="translate(1265.8 738.2) scale(0.74323 1)" font-size="20.3" class="halo" style="stroke-width:3.2">M,</text>
<text transform="translate(1265.8 738.2) scale(0.74323 1)" font-size="20.3" style="stroke-width:1.3">M,</text>
<text transform="translate(1259 756.7) scale(0.79889 1)" font-size="20.3" class="halo" style="stroke-width:3.2">G&amp;F</text>
<text transform="translate(1259 756.7) scale(0.79889 1)" font-size="20.3" style="stroke-width:1.3">G&amp;F</text>
<text transform="translate(1273.29 922.74) scale(0.77942 1)" font-size="18.9" class="halo" style="stroke-width:2.4">L</text>
<text transform="translate(1273.29 922.74) scale(0.77942 1)" font-size="18.9" style="stroke-width:1.26">L</text>
<text transform="translate(1273.2 946.7) scale(0.82376 1)" font-size="20.3" class="halo" style="stroke-width:3.2">K</text>
<text transform="translate(1273.2 946.7) scale(0.82376 1)" font-size="20.3" style="stroke-width:1.3">K</text>
<text transform="translate(1275.7 1067.7) scale(0.7604 1)" font-size="20.3" class="halo" style="stroke-width:3.2">G</text>
<text transform="translate(1275.7 1067.7) scale(0.7604 1)" font-size="20.3" style="stroke-width:1.3">G</text>
<text transform="translate(1358.5 707.2) scale(0.74323 1)" font-size="20.3" class="halo" style="stroke-width:3.2">M,</text>
<text transform="translate(1358.5 707.2) scale(0.74323 1)" font-size="20.3" style="stroke-width:1.3">M,</text>
<text transform="translate(1350.4 724.7) scale(0.79889 1)" font-size="20.3" class="halo" style="stroke-width:3.2">G&amp;F</text>
<text transform="translate(1350.4 724.7) scale(0.79889 1)" font-size="20.3" style="stroke-width:1.3">G&amp;F</text>
<text transform="translate(1367.06 896.27) scale(0.77872 1)" font-size="19" class="halo" style="stroke-width:2.4">L</text>
<text transform="translate(1367.06 896.27) scale(0.77872 1)" font-size="19" style="stroke-width:1.26">L</text>
<text transform="translate(1365.2 921.2) scale(0.82376 1)" font-size="20.3" class="halo" style="stroke-width:3.2">K</text>
<text transform="translate(1365.2 921.2) scale(0.82376 1)" font-size="20.3" style="stroke-width:1.3">K</text>
<text transform="translate(1368.2 1048.2) scale(0.7604 1)" font-size="20.3" class="halo" style="stroke-width:3.2">G</text>
<text transform="translate(1368.2 1048.2) scale(0.7604 1)" font-size="20.3" style="stroke-width:1.3">G</text>
<text transform="translate(1450 650.2) scale(0.74323 1)" font-size="20.3" class="halo" style="stroke-width:3.2">M,</text>
<text transform="translate(1450 650.2) scale(0.74323 1)" font-size="20.3" style="stroke-width:1.3">M,</text>
<text transform="translate(1441.7 667.7) scale(0.79889 1)" font-size="20.3" class="halo" style="stroke-width:3.2">G&amp;F</text>
<text transform="translate(1441.7 667.7) scale(0.79889 1)" font-size="20.3" style="stroke-width:1.3">G&amp;F</text>
<text transform="translate(1458.06 862.77) scale(0.77872 1)" font-size="19" class="halo" style="stroke-width:2.4">L</text>
<text transform="translate(1458.06 862.77) scale(0.77872 1)" font-size="19" style="stroke-width:1.26">L</text>
<text transform="translate(1457.7 888.7) scale(0.82376 1)" font-size="20.3" class="halo" style="stroke-width:3.2">K</text>
<text transform="translate(1457.7 888.7) scale(0.82376 1)" font-size="20.3" style="stroke-width:1.3">K</text>
<text transform="translate(1460.7 1029.2) scale(0.7604 1)" font-size="20.3" class="halo" style="stroke-width:3.2">G</text>
<text transform="translate(1460.7 1029.2) scale(0.7604 1)" font-size="20.3" style="stroke-width:1.3">G</text>
<text transform="translate(1541 658.7) scale(0.74323 1)" font-size="20.3" class="halo" style="stroke-width:3.2">M,</text>
<text transform="translate(1541 658.7) scale(0.74323 1)" font-size="20.3" style="stroke-width:1.3">M,</text>
<text transform="translate(1533.5 676.7) scale(0.79889 1)" font-size="20.3" class="halo" style="stroke-width:3.2">G&amp;F</text>
<text transform="translate(1533.5 676.7) scale(0.79889 1)" font-size="20.3" style="stroke-width:1.3">G&amp;F</text>
<text transform="translate(1547.34 852.92) scale(0.77891 1)" font-size="17.93" class="halo" style="stroke-width:2.4">L</text>
<text transform="translate(1547.34 852.92) scale(0.77891 1)" font-size="17.93" style="stroke-width:1.22">L</text>
<text transform="translate(1547.2 875.2) scale(0.82376 1)" font-size="20.3" class="halo" style="stroke-width:3.2">K</text>
<text transform="translate(1547.2 875.2) scale(0.82376 1)" font-size="20.3" style="stroke-width:1.3">K</text>
<text transform="translate(1550.7 1021.7) scale(0.7604 1)" font-size="20.3" class="halo" style="stroke-width:3.2">G</text>
<text transform="translate(1550.7 1021.7) scale(0.7604 1)" font-size="20.3" style="stroke-width:1.3">G</text>
<text transform="translate(1635 649) scale(0.74323 1)" font-size="20.3" class="halo" style="stroke-width:3.2">M,</text>
<text transform="translate(1635 649) scale(0.74323 1)" font-size="20.3" style="stroke-width:1.3">M,</text>
<text transform="translate(1627.2 666.7) scale(0.79889 1)" font-size="20.3" class="halo" style="stroke-width:3.2">G&amp;F</text>
<text transform="translate(1627.2 666.7) scale(0.79889 1)" font-size="20.3" style="stroke-width:1.3">G&amp;F</text>
<text transform="translate(1642.01 839.2) scale(0.77924 1)" font-size="17.28" class="halo" style="stroke-width:2.4">L</text>
<text transform="translate(1642.01 839.2) scale(0.77924 1)" font-size="17.28" style="stroke-width:1.19">L</text>
<text transform="translate(1640.7 861.2) scale(0.82376 1)" font-size="20.3" class="halo" style="stroke-width:3.2">K</text>
<text transform="translate(1640.7 861.2) scale(0.82376 1)" font-size="20.3" style="stroke-width:1.3">K</text>
<text transform="translate(1645.2 1011.7) scale(0.7604 1)" font-size="20.3" class="halo" style="stroke-width:3.2">G</text>
<text transform="translate(1645.2 1011.7) scale(0.7604 1)" font-size="20.3" style="stroke-width:1.3">G</text>
<text transform="translate(1726 591.2) scale(0.75693 1)" font-size="20.3" class="halo" style="stroke-width:3.2">M</text>
<text transform="translate(1726 591.2) scale(0.75693 1)" font-size="20.3" style="stroke-width:1.3">M</text>
<text transform="translate(1720.7 666.2) scale(0.79889 1)" font-size="20.3" class="halo" style="stroke-width:3.2">G&amp;F</text>
<text transform="translate(1720.7 666.2) scale(0.79889 1)" font-size="20.3" style="stroke-width:1.3">G&amp;F</text>
<text transform="translate(1734.8 859.58) scale(0.77957 1)" font-size="15.39" class="halo" style="stroke-width:2.4">L</text>
<text transform="translate(1734.8 859.58) scale(0.77957 1)" font-size="15.39" style="stroke-width:1.12">L</text>
<text transform="translate(1733.7 881.7) scale(0.82376 1)" font-size="20.3" class="halo" style="stroke-width:3.2">K</text>
<text transform="translate(1733.7 881.7) scale(0.82376 1)" font-size="20.3" style="stroke-width:1.3">K</text>
<text transform="translate(1735.9 1011.2) scale(0.7604 1)" font-size="20.3" class="halo" style="stroke-width:3.2">G</text>
<text transform="translate(1735.9 1011.2) scale(0.7604 1)" font-size="20.3" style="stroke-width:1.3">G</text>
<text transform="translate(1825.5 577.2) scale(0.75693 1)" font-size="20.3" class="halo" style="stroke-width:3.2">M</text>
<text transform="translate(1825.5 577.2) scale(0.75693 1)" font-size="20.3" style="stroke-width:1.3">M</text>
<text transform="translate(1816.2 740.2) scale(0.79889 1)" font-size="20.3" class="halo" style="stroke-width:3.2">G&amp;F</text>
<text transform="translate(1816.2 740.2) scale(0.79889 1)" font-size="20.3" style="stroke-width:1.3">G&amp;F</text>
<text transform="translate(1832.49 851.96) scale(0.77865 1)" font-size="13.5" class="halo" style="stroke-width:2.4">L</text>
<text transform="translate(1832.49 851.96) scale(0.77865 1)" font-size="13.5" style="stroke-width:1.04">L</text>
<text transform="translate(1830.2 875.4) scale(0.82376 1)" font-size="20.3" class="halo" style="stroke-width:3.2">K</text>
<text transform="translate(1830.2 875.4) scale(0.82376 1)" font-size="20.3" style="stroke-width:1.3">K</text>
<text transform="translate(1836.2 1037.7) scale(0.7604 1)" font-size="20.3" class="halo" style="stroke-width:3.2">G</text>
<text transform="translate(1836.2 1037.7) scale(0.7604 1)" font-size="20.3" style="stroke-width:1.3">G</text>
<text transform="translate(1917 532.7) scale(0.75693 1)" font-size="20.3" class="halo" style="stroke-width:3.2">M</text>
<text transform="translate(1917 532.7) scale(0.75693 1)" font-size="20.3" style="stroke-width:1.3">M</text>
<text transform="translate(1911.2 699.2) scale(0.79889 1)" font-size="20.3" class="halo" style="stroke-width:3.2">G&amp;F</text>
<text transform="translate(1911.2 699.2) scale(0.79889 1)" font-size="20.3" style="stroke-width:1.3">G&amp;F</text>
<text transform="translate(1925.14 819.6) scale(0.77951 1)" font-size="14.85" class="halo" style="stroke-width:2.4">L</text>
<text transform="translate(1925.14 819.6) scale(0.77951 1)" font-size="14.85" style="stroke-width:1.09">L</text>
<text transform="translate(1924.7 847.7) scale(0.82376 1)" font-size="20.3" class="halo" style="stroke-width:3.2">K</text>
<text transform="translate(1924.7 847.7) scale(0.82376 1)" font-size="20.3" style="stroke-width:1.3">K</text>
<text transform="translate(1929.4 1024.2) scale(0.7604 1)" font-size="20.3" class="halo" style="stroke-width:3.2">G</text>
<text transform="translate(1929.4 1024.2) scale(0.7604 1)" font-size="20.3" style="stroke-width:1.3">G</text>
<text transform="translate(579.14 396.5) scale(0.80721 1)" font-size="19.5" font-weight="normal" class="halo" style="stroke-width:1.5">M</text>
<text transform="translate(579.14 396.5) scale(0.80721 1)" font-size="19.5" font-weight="normal" style="stroke-width:0.5">M</text>
<text transform="translate(568.42 435.5) scale(0.87261 1)" font-size="19.5" font-weight="normal" class="halo" style="stroke-width:1.5">G&amp;F</text>
<text transform="translate(568.42 435.5) scale(0.87261 1)" font-size="19.5" font-weight="normal" style="stroke-width:0.5">G&amp;F</text>
<text transform="translate(582.3 474) scale(0.83879 1)" font-size="19.5" font-weight="normal" class="halo" style="stroke-width:1.5">L</text>
<text transform="translate(582.3 474) scale(0.83879 1)" font-size="19.5" font-weight="normal" style="stroke-width:0.5">L</text>
<text transform="translate(581.58 513.5) scale(0.89401 1)" font-size="19.5" font-weight="normal" class="halo" style="stroke-width:1.5">K</text>
<text transform="translate(581.58 513.5) scale(0.89401 1)" font-size="19.5" font-weight="normal" style="stroke-width:0.5">K</text>
<text transform="translate(582.67 553) scale(0.82306 1)" font-size="19.5" font-weight="normal" class="halo" style="stroke-width:1.5">G</text>
<text transform="translate(582.67 553) scale(0.82306 1)" font-size="19.5" font-weight="normal" style="stroke-width:0.5">G</text>
<text transform="translate(457.5 282) scale(0.92308 1)" font-size="19.5">Imports of all</text>
<text transform="translate(496.5 299.8) scale(0.92239 1)" font-size="19.5">oils</text>
<text transform="translate(465 352) scale(0.92895 1)" font-size="19.5">Decrease in</text>
<text transform="translate(463.7 371.3) scale(0.96718 1)" font-size="19.5">stocks of all</text>
<text transform="translate(496.5 390.2) scale(0.92239 1)" font-size="19.5">oils</text>
<text transform="translate(460.5 422.5) scale(0.90576 1)" font-size="19.5">Production of</text>
<text transform="translate(483.7 441.3) scale(0.87913 1)" font-size="19.5">natural</text>
<text transform="translate(482.5 460) scale(0.89302 1)" font-size="19.5">gasoline</text>
<text transform="translate(472 480) scale(0.90292 1)" font-size="19.5">and benzol</text>
<text transform="translate(462 509.5) scale(0.904 1)" font-size="19.5">Production of</text>
<text transform="translate(493.7 527.5) scale(0.86662 1)" font-size="19.5">crude</text>
<text transform="translate(475.7 547.3) scale(0.88948 1)" font-size="19.5">petroleum</text>
<text transform="translate(612.5 276.3) scale(0.96075 1)" font-size="19.5">Exports of all oils</text>
<text transform="translate(613.7 315.5) scale(0.90941 1)" font-size="19.5">Bunker oil</text>
<text transform="translate(613 355.5) scale(0.97392 1)" font-size="19.5">Increase in stocks of all oils</text>
<text transform="translate(615 395.5) scale(0.87179 1)" font-size="19.5">Miscellaneous</text>
<text transform="translate(616.2 434.5) scale(0.96647 1)" font-size="19.5">Gas oil and fuel oil</text>
<text transform="translate(617 473.7) scale(0.85225 1)" font-size="19.5">Lubricants</text>
<text transform="translate(617.5 512.5) scale(0.87601 1)" font-size="19.5">Kerosene</text>
<text transform="translate(617.8 552) scale(0.87473 1)" font-size="19.5">Gasoline</text>
<text transform="translate(798.7 471.2) rotate(-0.7) scale(0.89382 1)" font-size="19.5">Indicated domestic demand</text>
<text transform="translate(402 245.6) scale(0.97693 1)" font-size="18.5" font-weight="normal" style="stroke-width:0.15">SUPPLY</text>
<text transform="translate(547 246.3) scale(0.91376 1)" font-size="18.5" font-weight="normal" style="stroke-width:0.15">DEMAND</text>
<text transform="translate(322.6 836.6) rotate(-90) scale(0.87722 1)" font-size="21.5" word-spacing="5">MILLIONS OF BARRELS</text>
<text transform="translate(2089 174.5) rotate(90) scale(0.85816 1)" font-size="47" font-weight="normal">728</text>
<text transform="translate(2094.2 502.6) rotate(90.3) scale(0.97074 1)" font-size="31.5" word-spacing="8">MINERALS YEARBOOK, 1935</text>
<text transform="translate(901 1249.7) rotate(-0.65) scale(1.06934 1)" font-size="22.5">F<tspan font-size="16.6">IGURE</tspan> 60.—Supply and demand of all oils, 1918–34.</text>
</g>
</svg>
</body></html>
